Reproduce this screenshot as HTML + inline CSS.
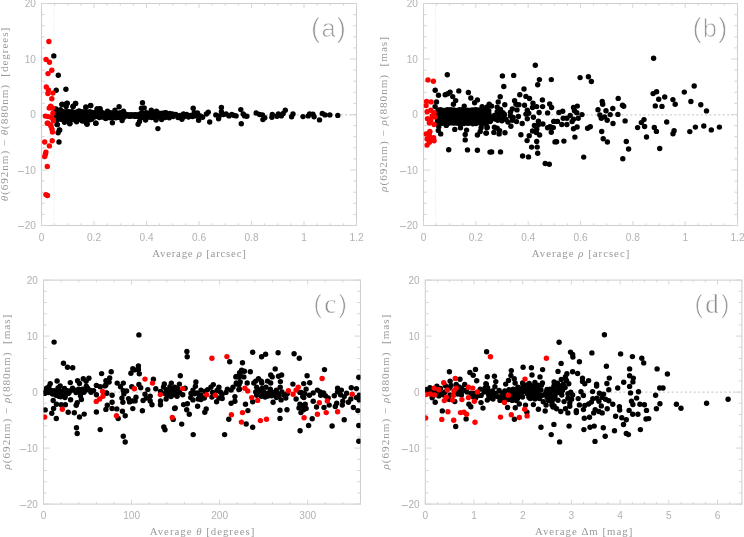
<!DOCTYPE html>
<html><head><meta charset="utf-8"><title>Figure</title>
<style>html,body{margin:0;padding:0;background:#fff;}svg{display:block;}.t{font-family:"Liberation Sans",sans-serif;font-size:10.1px;fill:#b2b2b2;}.s{font-family:"Liberation Serif",serif;font-size:10.8px;fill:#999999;}.y{font-size:11.2px;}.p{font-family:"Liberation Sans",sans-serif;font-size:25.5px;fill:#989898;stroke:#fff;stroke-width:0.75px;}.q{font-family:"Liberation Serif",serif;font-size:27px;fill:#8c8c8c;stroke-width:0.5px;}.k circle{fill:#000;}.r circle{fill:#fe0000;}</style></head><body>
<svg width="744" height="537" viewBox="0 0 744 537">
<rect width="744" height="537" fill="#fff"/>
<defs><clipPath id="ca"><rect x="41.5" y="3.5" width="315" height="222"/></clipPath><clipPath id="cb"><rect x="423.5" y="3.5" width="314" height="222"/></clipPath><clipPath id="cc"><rect x="43.5" y="280.1" width="317" height="224"/></clipPath><clipPath id="cd"><rect x="425.3" y="280.1" width="316.6" height="224"/></clipPath></defs>
<line x1="41.5" y1="114.90" x2="356.5" y2="114.90" stroke="#cfcfcf" stroke-width="1.25" stroke-dasharray="2.1 2.3"/>
<line x1="54.0" y1="3.5" x2="54.0" y2="225.5" stroke="#ebebeb" stroke-width="1" stroke-dasharray="1 1.3"/>
<rect x="41.5" y="3.5" width="315.0" height="222.0" fill="none" stroke="#cecece" stroke-width="1.05"/>
<path d="M41.50 225.5v-4.5M41.50 3.5v4.5M54.62 225.5v-2.2M54.62 3.5v2.2M67.75 225.5v-2.2M67.75 3.5v2.2M80.88 225.5v-2.2M80.88 3.5v2.2M94.00 225.5v-4.5M94.00 3.5v4.5M107.12 225.5v-2.2M107.12 3.5v2.2M120.25 225.5v-2.2M120.25 3.5v2.2M133.38 225.5v-2.2M133.38 3.5v2.2M146.50 225.5v-4.5M146.50 3.5v4.5M159.62 225.5v-2.2M159.62 3.5v2.2M172.75 225.5v-2.2M172.75 3.5v2.2M185.88 225.5v-2.2M185.88 3.5v2.2M199.00 225.5v-4.5M199.00 3.5v4.5M212.12 225.5v-2.2M212.12 3.5v2.2M225.25 225.5v-2.2M225.25 3.5v2.2M238.38 225.5v-2.2M238.38 3.5v2.2M251.50 225.5v-4.5M251.50 3.5v4.5M264.62 225.5v-2.2M264.62 3.5v2.2M277.75 225.5v-2.2M277.75 3.5v2.2M290.88 225.5v-2.2M290.88 3.5v2.2M304.00 225.5v-4.5M304.00 3.5v4.5M317.12 225.5v-2.2M317.12 3.5v2.2M330.25 225.5v-2.2M330.25 3.5v2.2M343.38 225.5v-2.2M343.38 3.5v2.2M356.50 225.5v-4.5M356.50 3.5v4.5M41.5 225.50h6.4M356.5 225.50h-6.4M41.5 214.40h3.2M356.5 214.40h-3.2M41.5 203.30h3.2M356.5 203.30h-3.2M41.5 192.20h3.2M356.5 192.20h-3.2M41.5 181.10h3.2M356.5 181.10h-3.2M41.5 170.00h6.4M356.5 170.00h-6.4M41.5 158.90h3.2M356.5 158.90h-3.2M41.5 147.80h3.2M356.5 147.80h-3.2M41.5 136.70h3.2M356.5 136.70h-3.2M41.5 125.60h3.2M356.5 125.60h-3.2M41.5 114.50h6.4M356.5 114.50h-6.4M41.5 103.40h3.2M356.5 103.40h-3.2M41.5 92.30h3.2M356.5 92.30h-3.2M41.5 81.20h3.2M356.5 81.20h-3.2M41.5 70.10h3.2M356.5 70.10h-3.2M41.5 59.00h6.4M356.5 59.00h-6.4M41.5 47.90h3.2M356.5 47.90h-3.2M41.5 36.80h3.2M356.5 36.80h-3.2M41.5 25.70h3.2M356.5 25.70h-3.2M41.5 14.60h3.2M356.5 14.60h-3.2M41.5 3.50h6.4M356.5 3.50h-6.4" stroke="#d6d6d6" stroke-width="1" fill="none"/>
<g class="k" clip-path="url(#ca)">
<circle cx="55.8" cy="111.7" r="2.7"/><circle cx="56.2" cy="114.2" r="2.7"/><circle cx="56.0" cy="117.1" r="2.7"/><circle cx="55.5" cy="119.6" r="2.7"/><circle cx="58.0" cy="111.9" r="2.7"/><circle cx="58.1" cy="114.2" r="2.7"/><circle cx="58.5" cy="117.5" r="2.7"/><circle cx="58.1" cy="119.3" r="2.7"/><circle cx="61.4" cy="112.4" r="2.7"/><circle cx="61.3" cy="114.5" r="2.7"/><circle cx="61.8" cy="116.7" r="2.7"/><circle cx="61.6" cy="119.4" r="2.7"/><circle cx="63.4" cy="111.6" r="2.7"/><circle cx="63.6" cy="114.9" r="2.7"/><circle cx="63.4" cy="117.3" r="2.7"/><circle cx="64.0" cy="119.5" r="2.7"/><circle cx="66.5" cy="111.6" r="2.7"/><circle cx="65.9" cy="114.3" r="2.7"/><circle cx="66.6" cy="117.1" r="2.7"/><circle cx="66.2" cy="119.7" r="2.7"/><circle cx="68.9" cy="111.8" r="2.7"/><circle cx="69.4" cy="114.8" r="2.7"/><circle cx="68.7" cy="117.3" r="2.7"/><circle cx="69.0" cy="120.0" r="2.7"/><circle cx="71.9" cy="111.8" r="2.7"/><circle cx="72.2" cy="114.2" r="2.7"/><circle cx="71.5" cy="117.5" r="2.7"/><circle cx="71.2" cy="119.6" r="2.7"/><circle cx="73.6" cy="112.2" r="2.7"/><circle cx="74.5" cy="114.7" r="2.7"/><circle cx="74.7" cy="117.0" r="2.7"/><circle cx="74.4" cy="119.7" r="2.7"/><circle cx="76.9" cy="112.0" r="2.7"/><circle cx="77.2" cy="115.0" r="2.7"/><circle cx="76.8" cy="117.4" r="2.7"/><circle cx="76.3" cy="119.8" r="2.7"/><circle cx="79.6" cy="112.5" r="2.7"/><circle cx="79.8" cy="114.4" r="2.7"/><circle cx="79.3" cy="117.4" r="2.7"/><circle cx="78.8" cy="119.6" r="2.7"/><circle cx="81.6" cy="111.6" r="2.7"/><circle cx="81.5" cy="114.9" r="2.7"/><circle cx="81.6" cy="116.9" r="2.7"/><circle cx="81.9" cy="120.0" r="2.7"/><circle cx="84.1" cy="111.9" r="2.7"/><circle cx="84.7" cy="115.0" r="2.7"/><circle cx="85.0" cy="117.6" r="2.7"/><circle cx="84.3" cy="119.5" r="2.7"/><circle cx="87.0" cy="112.4" r="2.7"/><circle cx="87.7" cy="114.3" r="2.7"/><circle cx="86.8" cy="116.9" r="2.7"/><circle cx="86.9" cy="119.6" r="2.7"/><circle cx="89.9" cy="111.8" r="2.7"/><circle cx="89.2" cy="114.5" r="2.7"/><circle cx="89.6" cy="117.3" r="2.7"/><circle cx="90.3" cy="119.8" r="2.7"/><circle cx="92.4" cy="112.4" r="2.7"/><circle cx="92.6" cy="114.2" r="2.7"/><circle cx="92.9" cy="117.1" r="2.7"/><circle cx="95.4" cy="112.6" r="2.7"/><circle cx="94.9" cy="114.5" r="2.7"/><circle cx="94.5" cy="116.9" r="2.7"/><circle cx="97.1" cy="111.9" r="2.7"/><circle cx="97.3" cy="114.3" r="2.7"/><circle cx="97.4" cy="116.4" r="2.7"/><circle cx="99.4" cy="112.8" r="2.7"/><circle cx="99.5" cy="115.2" r="2.7"/><circle cx="99.4" cy="117.6" r="2.7"/><circle cx="102.7" cy="112.8" r="2.7"/><circle cx="102.3" cy="115.2" r="2.7"/><circle cx="102.4" cy="117.0" r="2.7"/><circle cx="105.6" cy="113.5" r="2.7"/><circle cx="105.2" cy="115.3" r="2.7"/><circle cx="104.7" cy="117.0" r="2.7"/><circle cx="107.6" cy="112.9" r="2.7"/><circle cx="108.2" cy="115.0" r="2.7"/><circle cx="107.2" cy="117.7" r="2.7"/><circle cx="110.4" cy="112.8" r="2.7"/><circle cx="110.5" cy="114.9" r="2.7"/><circle cx="110.4" cy="117.7" r="2.7"/><circle cx="113.4" cy="113.3" r="2.7"/><circle cx="112.7" cy="115.2" r="2.7"/><circle cx="112.6" cy="117.5" r="2.7"/><circle cx="115.6" cy="113.3" r="2.7"/><circle cx="115.4" cy="115.1" r="2.7"/><circle cx="116.0" cy="117.7" r="2.7"/><circle cx="118.6" cy="113.3" r="2.7"/><circle cx="118.6" cy="115.5" r="2.7"/><circle cx="117.9" cy="117.3" r="2.7"/><circle cx="120.6" cy="112.7" r="2.7"/><circle cx="120.2" cy="115.1" r="2.7"/><circle cx="120.5" cy="117.5" r="2.7"/><circle cx="123.9" cy="113.1" r="2.7"/><circle cx="123.9" cy="115.7" r="2.7"/><circle cx="123.9" cy="117.2" r="2.7"/><circle cx="125.7" cy="114.2" r="2.7"/><circle cx="125.6" cy="116.0" r="2.7"/><circle cx="128.7" cy="114.7" r="2.7"/><circle cx="129.0" cy="116.2" r="2.7"/><circle cx="131.4" cy="114.6" r="2.7"/><circle cx="130.7" cy="116.3" r="2.7"/><circle cx="134.3" cy="114.6" r="2.7"/><circle cx="134.1" cy="116.2" r="2.7"/><circle cx="136.0" cy="114.6" r="2.7"/><circle cx="136.2" cy="116.4" r="2.7"/><circle cx="139.6" cy="114.3" r="2.7"/><circle cx="138.9" cy="116.6" r="2.7"/><circle cx="141.9" cy="112.8" r="2.7"/><circle cx="141.2" cy="115.0" r="2.7"/><circle cx="142.1" cy="117.5" r="2.7"/><circle cx="143.8" cy="113.4" r="2.7"/><circle cx="144.8" cy="115.4" r="2.7"/><circle cx="144.0" cy="117.3" r="2.7"/><circle cx="146.4" cy="112.7" r="2.7"/><circle cx="147.4" cy="115.4" r="2.7"/><circle cx="146.8" cy="117.6" r="2.7"/><circle cx="149.3" cy="113.4" r="2.7"/><circle cx="149.8" cy="115.1" r="2.7"/><circle cx="149.1" cy="117.1" r="2.7"/><circle cx="151.7" cy="113.2" r="2.7"/><circle cx="151.7" cy="115.2" r="2.7"/><circle cx="151.6" cy="117.6" r="2.7"/><circle cx="154.4" cy="113.1" r="2.7"/><circle cx="154.7" cy="115.6" r="2.7"/><circle cx="154.5" cy="117.6" r="2.7"/><circle cx="157.2" cy="113.1" r="2.7"/><circle cx="157.2" cy="114.9" r="2.7"/><circle cx="157.1" cy="117.0" r="2.7"/><circle cx="159.2" cy="113.3" r="2.7"/><circle cx="159.4" cy="115.3" r="2.7"/><circle cx="160.1" cy="117.3" r="2.7"/><circle cx="162.2" cy="113.1" r="2.7"/><circle cx="162.5" cy="115.5" r="2.7"/><circle cx="161.9" cy="117.3" r="2.7"/><circle cx="164.7" cy="112.9" r="2.7"/><circle cx="165.3" cy="115.3" r="2.7"/><circle cx="165.1" cy="117.5" r="2.7"/><circle cx="53.8" cy="55.9" r="2.7"/><circle cx="58.3" cy="75.3" r="2.7"/><circle cx="56.2" cy="90.2" r="2.7"/><circle cx="65.9" cy="89.3" r="2.7"/><circle cx="61.9" cy="104.6" r="2.7"/><circle cx="66.6" cy="103.4" r="2.7"/><circle cx="75.5" cy="103.4" r="2.7"/><circle cx="73.2" cy="106.2" r="2.7"/><circle cx="90.6" cy="105.6" r="2.7"/><circle cx="85.9" cy="107.6" r="2.7"/><circle cx="97.1" cy="109.0" r="2.7"/><circle cx="100.0" cy="109.0" r="2.7"/><circle cx="62.1" cy="104.1" r="2.7"/><circle cx="67.3" cy="103.3" r="2.7"/><circle cx="66.1" cy="106.5" r="2.7"/><circle cx="75.6" cy="103.4" r="2.7"/><circle cx="73.0" cy="106.5" r="2.7"/><circle cx="90.7" cy="105.5" r="2.7"/><circle cx="85.9" cy="106.9" r="2.7"/><circle cx="97.2" cy="108.9" r="2.7"/><circle cx="56.0" cy="108.9" r="2.7"/><circle cx="60.5" cy="109.7" r="2.7"/><circle cx="79.0" cy="110.9" r="2.7"/><circle cx="95.7" cy="123.2" r="2.7"/><circle cx="57.2" cy="124.6" r="2.7"/><circle cx="69.9" cy="123.2" r="2.7"/><circle cx="86.8" cy="123.4" r="2.7"/><circle cx="57.3" cy="124.6" r="2.7"/><circle cx="69.8" cy="123.8" r="2.7"/><circle cx="87.1" cy="124.2" r="2.7"/><circle cx="85.5" cy="121.8" r="2.7"/><circle cx="96.0" cy="123.3" r="2.7"/><circle cx="64.5" cy="122.2" r="2.7"/><circle cx="76.6" cy="121.8" r="2.7"/><circle cx="82.3" cy="121.0" r="2.7"/><circle cx="91.9" cy="119.0" r="2.7"/><circle cx="105.6" cy="118.6" r="2.7"/><circle cx="59.7" cy="129.9" r="2.7"/><circle cx="58.1" cy="132.7" r="2.7"/><circle cx="59.3" cy="130.2" r="2.7"/><circle cx="59.0" cy="142.0" r="2.7"/><circle cx="119.1" cy="106.7" r="2.7"/><circle cx="142.5" cy="102.7" r="2.7"/><circle cx="141.4" cy="108.3" r="2.7"/><circle cx="144.2" cy="107.9" r="2.7"/><circle cx="112.4" cy="122.7" r="2.7"/><circle cx="122.1" cy="120.6" r="2.7"/><circle cx="138.1" cy="124.3" r="2.7"/><circle cx="139.5" cy="121.5" r="2.7"/><circle cx="157.9" cy="128.6" r="2.7"/><circle cx="145.6" cy="120.1" r="2.7"/><circle cx="156.0" cy="120.1" r="2.7"/><circle cx="161.6" cy="119.6" r="2.7"/><circle cx="100.0" cy="108.8" r="2.7"/><circle cx="107.5" cy="111.2" r="2.7"/><circle cx="115.0" cy="110.2" r="2.7"/><circle cx="123.5" cy="111.2" r="2.7"/><circle cx="151.3" cy="110.2" r="2.7"/><circle cx="156.4" cy="111.2" r="2.7"/><circle cx="165.9" cy="112.6" r="2.7"/><circle cx="166.9" cy="114.9" r="2.7"/><circle cx="169.2" cy="117.8" r="2.7"/><circle cx="169.7" cy="113.5" r="2.7"/><circle cx="175.8" cy="114.5" r="2.7"/><circle cx="181.9" cy="119.2" r="2.7"/><circle cx="180.0" cy="115.4" r="2.7"/><circle cx="186.6" cy="114.5" r="2.7"/><circle cx="190.4" cy="115.4" r="2.7"/><circle cx="193.2" cy="108.3" r="2.7"/><circle cx="194.2" cy="112.6" r="2.7"/><circle cx="197.5" cy="113.0" r="2.7"/><circle cx="195.6" cy="115.9" r="2.7"/><circle cx="200.3" cy="115.9" r="2.7"/><circle cx="202.6" cy="117.3" r="2.7"/><circle cx="198.6" cy="120.3" r="2.7"/><circle cx="208.3" cy="112.1" r="2.7"/><circle cx="206.4" cy="114.0" r="2.7"/><circle cx="209.7" cy="122.0" r="2.7"/><circle cx="215.8" cy="114.9" r="2.7"/><circle cx="219.1" cy="115.9" r="2.7"/><circle cx="218.6" cy="118.7" r="2.7"/><circle cx="221.4" cy="107.4" r="2.7"/><circle cx="221.4" cy="111.6" r="2.7"/><circle cx="223.3" cy="114.5" r="2.7"/><circle cx="226.1" cy="114.0" r="2.7"/><circle cx="229.0" cy="115.9" r="2.7"/><circle cx="231.8" cy="114.5" r="2.7"/><circle cx="234.1" cy="115.4" r="2.7"/><circle cx="173.0" cy="116.5" r="2.7"/><circle cx="178.0" cy="117.5" r="2.7"/><circle cx="184.0" cy="116.8" r="2.7"/><circle cx="188.5" cy="117.0" r="2.7"/><circle cx="192.5" cy="116.5" r="2.7"/><circle cx="172.5" cy="114.0" r="2.7"/><circle cx="183.5" cy="114.0" r="2.7"/><circle cx="236.1" cy="115.9" r="2.7"/><circle cx="240.8" cy="109.6" r="2.7"/><circle cx="243.2" cy="114.0" r="2.7"/><circle cx="246.9" cy="116.3" r="2.7"/><circle cx="244.6" cy="115.9" r="2.7"/><circle cx="241.3" cy="123.7" r="2.7"/><circle cx="256.2" cy="113.0" r="2.7"/><circle cx="259.6" cy="114.5" r="2.7"/><circle cx="262.5" cy="114.9" r="2.7"/><circle cx="264.8" cy="117.8" r="2.7"/><circle cx="262.9" cy="119.6" r="2.7"/><circle cx="272.3" cy="114.5" r="2.7"/><circle cx="271.9" cy="117.3" r="2.7"/><circle cx="277.0" cy="116.3" r="2.7"/><circle cx="278.4" cy="114.0" r="2.7"/><circle cx="281.3" cy="115.9" r="2.7"/><circle cx="283.2" cy="113.5" r="2.7"/><circle cx="285.3" cy="110.2" r="2.7"/><circle cx="293.0" cy="114.0" r="2.7"/><circle cx="291.6" cy="116.8" r="2.7"/><circle cx="303.0" cy="116.6" r="2.7"/><circle cx="308.2" cy="115.9" r="2.7"/><circle cx="309.6" cy="114.0" r="2.7"/><circle cx="312.9" cy="114.3" r="2.7"/><circle cx="314.1" cy="116.8" r="2.7"/><circle cx="319.5" cy="119.9" r="2.7"/><circle cx="322.3" cy="113.5" r="2.7"/><circle cx="325.1" cy="114.9" r="2.7"/><circle cx="329.8" cy="114.9" r="2.7"/><circle cx="337.8" cy="115.4" r="2.7"/>
</g>
<g class="r" clip-path="url(#ca)">
<circle cx="48.9" cy="41.5" r="2.7"/><circle cx="46.1" cy="59.4" r="2.7"/><circle cx="49.5" cy="62.2" r="2.7"/><circle cx="51.8" cy="70.3" r="2.7"/><circle cx="48.0" cy="73.6" r="2.7"/><circle cx="46.3" cy="86.9" r="2.7"/><circle cx="48.4" cy="90.0" r="2.7"/><circle cx="47.9" cy="93.5" r="2.7"/><circle cx="52.9" cy="93.1" r="2.7"/><circle cx="51.8" cy="98.7" r="2.7"/><circle cx="50.6" cy="106.2" r="2.7"/><circle cx="49.2" cy="108.1" r="2.7"/><circle cx="52.5" cy="108.0" r="2.7"/><circle cx="52.9" cy="113.3" r="2.7"/><circle cx="45.4" cy="116.1" r="2.7"/><circle cx="48.2" cy="116.6" r="2.7"/><circle cx="51.5" cy="117.5" r="2.7"/><circle cx="53.4" cy="119.9" r="2.7"/><circle cx="47.3" cy="123.2" r="2.7"/><circle cx="50.6" cy="125.0" r="2.7"/><circle cx="47.8" cy="123.2" r="2.7"/><circle cx="53.4" cy="120.8" r="2.7"/><circle cx="51.1" cy="126.5" r="2.7"/><circle cx="52.0" cy="129.3" r="2.7"/><circle cx="52.5" cy="132.1" r="2.7"/><circle cx="52.2" cy="140.8" r="2.7"/><circle cx="44.7" cy="142.0" r="2.7"/><circle cx="49.4" cy="145.9" r="2.7"/><circle cx="45.9" cy="152.1" r="2.7"/><circle cx="45.4" cy="154.2" r="2.7"/><circle cx="44.7" cy="156.6" r="2.7"/><circle cx="47.3" cy="166.4" r="2.7"/><circle cx="45.9" cy="194.6" r="2.7"/><circle cx="47.5" cy="195.5" r="2.7"/>
</g>
<line x1="423.5" y1="114.90" x2="737.5" y2="114.90" stroke="#cfcfcf" stroke-width="1.25" stroke-dasharray="2.1 2.3"/>
<line x1="435.6" y1="3.5" x2="435.6" y2="225.5" stroke="#ebebeb" stroke-width="1" stroke-dasharray="1 1.3"/>
<rect x="423.5" y="3.5" width="314.0" height="222.0" fill="none" stroke="#cecece" stroke-width="1.05"/>
<path d="M423.50 225.5v-4.5M423.50 3.5v4.5M436.58 225.5v-2.2M436.58 3.5v2.2M449.67 225.5v-2.2M449.67 3.5v2.2M462.75 225.5v-2.2M462.75 3.5v2.2M475.83 225.5v-4.5M475.83 3.5v4.5M488.92 225.5v-2.2M488.92 3.5v2.2M502.00 225.5v-2.2M502.00 3.5v2.2M515.08 225.5v-2.2M515.08 3.5v2.2M528.17 225.5v-4.5M528.17 3.5v4.5M541.25 225.5v-2.2M541.25 3.5v2.2M554.33 225.5v-2.2M554.33 3.5v2.2M567.42 225.5v-2.2M567.42 3.5v2.2M580.50 225.5v-4.5M580.50 3.5v4.5M593.58 225.5v-2.2M593.58 3.5v2.2M606.67 225.5v-2.2M606.67 3.5v2.2M619.75 225.5v-2.2M619.75 3.5v2.2M632.83 225.5v-4.5M632.83 3.5v4.5M645.92 225.5v-2.2M645.92 3.5v2.2M659.00 225.5v-2.2M659.00 3.5v2.2M672.08 225.5v-2.2M672.08 3.5v2.2M685.17 225.5v-4.5M685.17 3.5v4.5M698.25 225.5v-2.2M698.25 3.5v2.2M711.33 225.5v-2.2M711.33 3.5v2.2M724.42 225.5v-2.2M724.42 3.5v2.2M737.50 225.5v-4.5M737.50 3.5v4.5M423.5 225.50h6.4M737.5 225.50h-6.4M423.5 214.40h3.2M737.5 214.40h-3.2M423.5 203.30h3.2M737.5 203.30h-3.2M423.5 192.20h3.2M737.5 192.20h-3.2M423.5 181.10h3.2M737.5 181.10h-3.2M423.5 170.00h6.4M737.5 170.00h-6.4M423.5 158.90h3.2M737.5 158.90h-3.2M423.5 147.80h3.2M737.5 147.80h-3.2M423.5 136.70h3.2M737.5 136.70h-3.2M423.5 125.60h3.2M737.5 125.60h-3.2M423.5 114.50h6.4M737.5 114.50h-6.4M423.5 103.40h3.2M737.5 103.40h-3.2M423.5 92.30h3.2M737.5 92.30h-3.2M423.5 81.20h3.2M737.5 81.20h-3.2M423.5 70.10h3.2M737.5 70.10h-3.2M423.5 59.00h6.4M737.5 59.00h-6.4M423.5 47.90h3.2M737.5 47.90h-3.2M423.5 36.80h3.2M737.5 36.80h-3.2M423.5 25.70h3.2M737.5 25.70h-3.2M423.5 14.60h3.2M737.5 14.60h-3.2M423.5 3.50h6.4M737.5 3.50h-6.4" stroke="#d6d6d6" stroke-width="1" fill="none"/>
<g class="k" clip-path="url(#cb)">
<circle cx="438.0" cy="109.9" r="2.7"/><circle cx="437.6" cy="112.7" r="2.7"/><circle cx="437.5" cy="115.6" r="2.7"/><circle cx="437.4" cy="118.1" r="2.7"/><circle cx="437.5" cy="121.2" r="2.7"/><circle cx="437.7" cy="123.7" r="2.7"/><circle cx="440.7" cy="109.8" r="2.7"/><circle cx="440.3" cy="113.1" r="2.7"/><circle cx="440.6" cy="115.0" r="2.7"/><circle cx="439.7" cy="118.0" r="2.7"/><circle cx="439.7" cy="120.5" r="2.7"/><circle cx="439.7" cy="123.5" r="2.7"/><circle cx="443.2" cy="110.4" r="2.7"/><circle cx="442.5" cy="112.9" r="2.7"/><circle cx="443.1" cy="115.0" r="2.7"/><circle cx="443.4" cy="118.6" r="2.7"/><circle cx="442.6" cy="121.3" r="2.7"/><circle cx="442.8" cy="123.3" r="2.7"/><circle cx="446.2" cy="110.3" r="2.7"/><circle cx="445.2" cy="112.6" r="2.7"/><circle cx="445.6" cy="115.2" r="2.7"/><circle cx="445.2" cy="117.9" r="2.7"/><circle cx="445.9" cy="120.3" r="2.7"/><circle cx="445.7" cy="123.2" r="2.7"/><circle cx="447.7" cy="109.8" r="2.7"/><circle cx="448.4" cy="112.7" r="2.7"/><circle cx="447.8" cy="115.9" r="2.7"/><circle cx="448.6" cy="118.6" r="2.7"/><circle cx="447.8" cy="120.6" r="2.7"/><circle cx="447.7" cy="123.6" r="2.7"/><circle cx="450.7" cy="109.6" r="2.7"/><circle cx="450.9" cy="113.1" r="2.7"/><circle cx="451.4" cy="115.2" r="2.7"/><circle cx="450.6" cy="118.5" r="2.7"/><circle cx="451.1" cy="121.0" r="2.7"/><circle cx="450.5" cy="122.9" r="2.7"/><circle cx="453.9" cy="109.9" r="2.7"/><circle cx="453.2" cy="113.1" r="2.7"/><circle cx="453.9" cy="115.7" r="2.7"/><circle cx="453.2" cy="118.5" r="2.7"/><circle cx="453.2" cy="121.2" r="2.7"/><circle cx="453.6" cy="123.1" r="2.7"/><circle cx="456.5" cy="110.4" r="2.7"/><circle cx="456.1" cy="112.3" r="2.7"/><circle cx="456.4" cy="115.1" r="2.7"/><circle cx="455.9" cy="117.8" r="2.7"/><circle cx="455.9" cy="120.5" r="2.7"/><circle cx="456.2" cy="123.1" r="2.7"/><circle cx="459.4" cy="109.8" r="2.7"/><circle cx="459.1" cy="112.4" r="2.7"/><circle cx="458.9" cy="114.9" r="2.7"/><circle cx="458.8" cy="117.6" r="2.7"/><circle cx="459.4" cy="120.9" r="2.7"/><circle cx="458.7" cy="123.3" r="2.7"/><circle cx="462.3" cy="109.6" r="2.7"/><circle cx="462.2" cy="112.6" r="2.7"/><circle cx="461.8" cy="115.7" r="2.7"/><circle cx="461.7" cy="118.1" r="2.7"/><circle cx="462.0" cy="121.3" r="2.7"/><circle cx="461.6" cy="123.6" r="2.7"/><circle cx="464.7" cy="110.1" r="2.7"/><circle cx="464.4" cy="112.5" r="2.7"/><circle cx="464.0" cy="115.0" r="2.7"/><circle cx="464.0" cy="118.3" r="2.7"/><circle cx="464.2" cy="120.5" r="2.7"/><circle cx="464.0" cy="123.6" r="2.7"/><circle cx="467.6" cy="110.2" r="2.7"/><circle cx="466.9" cy="112.4" r="2.7"/><circle cx="467.0" cy="115.4" r="2.7"/><circle cx="466.8" cy="118.0" r="2.7"/><circle cx="466.9" cy="121.3" r="2.7"/><circle cx="467.8" cy="123.3" r="2.7"/><circle cx="469.6" cy="110.5" r="2.7"/><circle cx="469.7" cy="112.6" r="2.7"/><circle cx="469.3" cy="115.3" r="2.7"/><circle cx="469.9" cy="118.1" r="2.7"/><circle cx="469.5" cy="120.8" r="2.7"/><circle cx="469.3" cy="123.1" r="2.7"/><circle cx="472.1" cy="109.9" r="2.7"/><circle cx="472.1" cy="112.2" r="2.7"/><circle cx="472.4" cy="115.1" r="2.7"/><circle cx="472.7" cy="118.1" r="2.7"/><circle cx="472.9" cy="121.0" r="2.7"/><circle cx="472.9" cy="123.7" r="2.7"/><circle cx="475.2" cy="109.8" r="2.7"/><circle cx="475.9" cy="112.3" r="2.7"/><circle cx="475.6" cy="115.5" r="2.7"/><circle cx="474.8" cy="118.4" r="2.7"/><circle cx="475.8" cy="120.9" r="2.7"/><circle cx="475.6" cy="123.6" r="2.7"/><circle cx="477.6" cy="110.0" r="2.7"/><circle cx="478.0" cy="113.0" r="2.7"/><circle cx="478.4" cy="115.7" r="2.7"/><circle cx="478.1" cy="118.5" r="2.7"/><circle cx="478.2" cy="121.0" r="2.7"/><circle cx="477.7" cy="122.8" r="2.7"/><circle cx="480.3" cy="109.9" r="2.7"/><circle cx="480.2" cy="113.0" r="2.7"/><circle cx="480.8" cy="115.5" r="2.7"/><circle cx="480.9" cy="118.3" r="2.7"/><circle cx="480.7" cy="120.3" r="2.7"/><circle cx="481.1" cy="123.5" r="2.7"/><circle cx="483.4" cy="110.0" r="2.7"/><circle cx="483.6" cy="112.3" r="2.7"/><circle cx="483.7" cy="115.2" r="2.7"/><circle cx="482.9" cy="117.9" r="2.7"/><circle cx="483.7" cy="120.5" r="2.7"/><circle cx="483.7" cy="123.8" r="2.7"/><circle cx="486.1" cy="109.9" r="2.7"/><circle cx="486.1" cy="112.9" r="2.7"/><circle cx="486.4" cy="115.5" r="2.7"/><circle cx="486.3" cy="117.7" r="2.7"/><circle cx="485.7" cy="120.6" r="2.7"/><circle cx="486.4" cy="123.1" r="2.7"/><circle cx="489.0" cy="114.0" r="2.7"/><circle cx="492.0" cy="117.5" r="2.7"/><circle cx="499.0" cy="113.0" r="2.7"/><circle cx="501.5" cy="118.5" r="2.7"/><circle cx="504.5" cy="114.5" r="2.7"/><circle cx="506.0" cy="119.5" r="2.7"/><circle cx="495.0" cy="119.0" r="2.7"/><circle cx="490.0" cy="121.5" r="2.7"/><circle cx="447.3" cy="74.7" r="2.7"/><circle cx="435.2" cy="90.3" r="2.7"/><circle cx="438.5" cy="95.3" r="2.7"/><circle cx="445.2" cy="94.7" r="2.7"/><circle cx="447.8" cy="93.7" r="2.7"/><circle cx="450.1" cy="92.1" r="2.7"/><circle cx="452.7" cy="96.6" r="2.7"/><circle cx="458.8" cy="90.9" r="2.7"/><circle cx="468.4" cy="92.5" r="2.7"/><circle cx="470.8" cy="98.0" r="2.7"/><circle cx="477.4" cy="99.9" r="2.7"/><circle cx="455.7" cy="100.6" r="2.7"/><circle cx="436.5" cy="101.9" r="2.7"/><circle cx="474.6" cy="102.8" r="2.7"/><circle cx="435.1" cy="106.6" r="2.7"/><circle cx="453.4" cy="104.2" r="2.7"/><circle cx="464.2" cy="106.1" r="2.7"/><circle cx="482.1" cy="106.6" r="2.7"/><circle cx="489.1" cy="105.2" r="2.7"/><circle cx="438.3" cy="130.6" r="2.7"/><circle cx="440.7" cy="133.9" r="2.7"/><circle cx="454.8" cy="129.4" r="2.7"/><circle cx="460.5" cy="127.7" r="2.7"/><circle cx="466.6" cy="130.1" r="2.7"/><circle cx="465.2" cy="134.5" r="2.7"/><circle cx="465.2" cy="139.9" r="2.7"/><circle cx="477.4" cy="135.0" r="2.7"/><circle cx="480.2" cy="131.5" r="2.7"/><circle cx="485.9" cy="133.1" r="2.7"/><circle cx="487.3" cy="127.3" r="2.7"/><circle cx="481.1" cy="127.7" r="2.7"/><circle cx="438.8" cy="126.8" r="2.7"/><circle cx="446.3" cy="125.4" r="2.7"/><circle cx="448.7" cy="149.8" r="2.7"/><circle cx="467.5" cy="149.9" r="2.7"/><circle cx="477.4" cy="150.2" r="2.7"/><circle cx="490.0" cy="152.1" r="2.7"/><circle cx="535.3" cy="65.3" r="2.7"/><circle cx="502.4" cy="75.9" r="2.7"/><circle cx="513.7" cy="75.4" r="2.7"/><circle cx="539.4" cy="79.6" r="2.7"/><circle cx="551.3" cy="79.6" r="2.7"/><circle cx="537.7" cy="84.8" r="2.7"/><circle cx="503.8" cy="86.5" r="2.7"/><circle cx="524.0" cy="89.0" r="2.7"/><circle cx="519.8" cy="94.7" r="2.7"/><circle cx="525.9" cy="96.4" r="2.7"/><circle cx="529.5" cy="98.5" r="2.7"/><circle cx="500.2" cy="96.8" r="2.7"/><circle cx="542.4" cy="99.9" r="2.7"/><circle cx="514.6" cy="100.7" r="2.7"/><circle cx="498.2" cy="101.9" r="2.7"/><circle cx="504.8" cy="104.7" r="2.7"/><circle cx="516.0" cy="104.2" r="2.7"/><circle cx="518.9" cy="104.7" r="2.7"/><circle cx="524.5" cy="105.2" r="2.7"/><circle cx="533.0" cy="103.3" r="2.7"/><circle cx="532.5" cy="107.5" r="2.7"/><circle cx="536.7" cy="106.6" r="2.7"/><circle cx="542.6" cy="106.6" r="2.7"/><circle cx="549.7" cy="104.0" r="2.7"/><circle cx="551.6" cy="107.5" r="2.7"/><circle cx="489.2" cy="104.2" r="2.7"/><circle cx="491.6" cy="106.1" r="2.7"/><circle cx="486.9" cy="107.1" r="2.7"/><circle cx="497.2" cy="107.1" r="2.7"/><circle cx="500.5" cy="109.4" r="2.7"/><circle cx="512.3" cy="108.9" r="2.7"/><circle cx="517.0" cy="109.9" r="2.7"/><circle cx="527.3" cy="110.3" r="2.7"/><circle cx="539.1" cy="112.5" r="2.7"/><circle cx="547.6" cy="112.9" r="2.7"/><circle cx="488.8" cy="110.8" r="2.7"/><circle cx="485.9" cy="113.6" r="2.7"/><circle cx="497.2" cy="111.8" r="2.7"/><circle cx="502.9" cy="112.7" r="2.7"/><circle cx="510.4" cy="112.2" r="2.7"/><circle cx="525.9" cy="114.1" r="2.7"/><circle cx="528.7" cy="113.2" r="2.7"/><circle cx="494.4" cy="115.5" r="2.7"/><circle cx="499.1" cy="116.5" r="2.7"/><circle cx="503.8" cy="116.9" r="2.7"/><circle cx="510.4" cy="116.0" r="2.7"/><circle cx="513.2" cy="117.4" r="2.7"/><circle cx="518.4" cy="116.5" r="2.7"/><circle cx="533.4" cy="117.2" r="2.7"/><circle cx="527.3" cy="118.8" r="2.7"/><circle cx="487.8" cy="117.4" r="2.7"/><circle cx="490.6" cy="120.7" r="2.7"/><circle cx="497.7" cy="120.2" r="2.7"/><circle cx="501.9" cy="120.7" r="2.7"/><circle cx="508.0" cy="122.1" r="2.7"/><circle cx="512.3" cy="120.2" r="2.7"/><circle cx="516.5" cy="121.6" r="2.7"/><circle cx="522.2" cy="123.5" r="2.7"/><circle cx="510.9" cy="126.3" r="2.7"/><circle cx="538.4" cy="121.2" r="2.7"/><circle cx="542.9" cy="124.0" r="2.7"/><circle cx="534.4" cy="125.4" r="2.7"/><circle cx="538.2" cy="124.9" r="2.7"/><circle cx="554.1" cy="121.4" r="2.7"/><circle cx="547.6" cy="127.7" r="2.7"/><circle cx="549.9" cy="126.8" r="2.7"/><circle cx="551.3" cy="132.2" r="2.7"/><circle cx="486.9" cy="127.7" r="2.7"/><circle cx="486.4" cy="133.1" r="2.7"/><circle cx="494.4" cy="127.3" r="2.7"/><circle cx="497.2" cy="128.2" r="2.7"/><circle cx="493.9" cy="132.4" r="2.7"/><circle cx="499.6" cy="130.6" r="2.7"/><circle cx="499.1" cy="133.9" r="2.7"/><circle cx="505.0" cy="132.7" r="2.7"/><circle cx="520.9" cy="134.8" r="2.7"/><circle cx="532.5" cy="131.0" r="2.7"/><circle cx="536.7" cy="129.2" r="2.7"/><circle cx="536.3" cy="132.5" r="2.7"/><circle cx="539.6" cy="135.0" r="2.7"/><circle cx="529.2" cy="135.7" r="2.7"/><circle cx="527.1" cy="140.6" r="2.7"/><circle cx="536.7" cy="141.5" r="2.7"/><circle cx="531.6" cy="147.1" r="2.7"/><circle cx="537.2" cy="147.1" r="2.7"/><circle cx="537.7" cy="153.2" r="2.7"/><circle cx="491.6" cy="151.9" r="2.7"/><circle cx="500.5" cy="151.9" r="2.7"/><circle cx="522.6" cy="156.0" r="2.7"/><circle cx="528.5" cy="156.9" r="2.7"/><circle cx="545.2" cy="163.5" r="2.7"/><circle cx="549.3" cy="164.3" r="2.7"/><circle cx="555.0" cy="141.9" r="2.7"/><circle cx="580.1" cy="77.6" r="2.7"/><circle cx="588.4" cy="76.8" r="2.7"/><circle cx="591.4" cy="81.5" r="2.7"/><circle cx="618.2" cy="98.4" r="2.7"/><circle cx="602.2" cy="101.4" r="2.7"/><circle cx="602.7" cy="104.2" r="2.7"/><circle cx="577.3" cy="106.1" r="2.7"/><circle cx="573.5" cy="107.5" r="2.7"/><circle cx="598.0" cy="109.7" r="2.7"/><circle cx="612.8" cy="108.5" r="2.7"/><circle cx="606.0" cy="110.8" r="2.7"/><circle cx="558.9" cy="112.5" r="2.7"/><circle cx="562.7" cy="111.3" r="2.7"/><circle cx="574.5" cy="110.8" r="2.7"/><circle cx="576.8" cy="112.7" r="2.7"/><circle cx="582.0" cy="114.6" r="2.7"/><circle cx="599.9" cy="115.0" r="2.7"/><circle cx="610.2" cy="114.6" r="2.7"/><circle cx="617.9" cy="114.4" r="2.7"/><circle cx="570.2" cy="115.5" r="2.7"/><circle cx="578.2" cy="118.2" r="2.7"/><circle cx="563.2" cy="118.3" r="2.7"/><circle cx="566.9" cy="118.3" r="2.7"/><circle cx="573.5" cy="119.3" r="2.7"/><circle cx="601.3" cy="118.3" r="2.7"/><circle cx="604.6" cy="116.9" r="2.7"/><circle cx="607.2" cy="120.2" r="2.7"/><circle cx="553.8" cy="121.4" r="2.7"/><circle cx="557.5" cy="121.4" r="2.7"/><circle cx="572.1" cy="121.6" r="2.7"/><circle cx="561.8" cy="124.5" r="2.7"/><circle cx="566.9" cy="124.5" r="2.7"/><circle cx="613.0" cy="123.5" r="2.7"/><circle cx="551.4" cy="127.3" r="2.7"/><circle cx="553.3" cy="127.6" r="2.7"/><circle cx="573.5" cy="128.7" r="2.7"/><circle cx="577.1" cy="127.0" r="2.7"/><circle cx="587.6" cy="128.2" r="2.7"/><circle cx="590.3" cy="126.8" r="2.7"/><circle cx="601.7" cy="131.5" r="2.7"/><circle cx="574.9" cy="137.1" r="2.7"/><circle cx="603.2" cy="138.8" r="2.7"/><circle cx="607.4" cy="142.0" r="2.7"/><circle cx="556.6" cy="141.8" r="2.7"/><circle cx="563.9" cy="141.1" r="2.7"/><circle cx="583.7" cy="157.1" r="2.7"/><circle cx="653.6" cy="58.2" r="2.7"/><circle cx="656.6" cy="91.7" r="2.7"/><circle cx="653.1" cy="93.6" r="2.7"/><circle cx="684.3" cy="92.1" r="2.7"/><circle cx="622.5" cy="105.2" r="2.7"/><circle cx="623.7" cy="106.2" r="2.7"/><circle cx="625.1" cy="120.9" r="2.7"/><circle cx="664.7" cy="97.0" r="2.7"/><circle cx="658.7" cy="99.3" r="2.7"/><circle cx="672.9" cy="99.6" r="2.7"/><circle cx="675.2" cy="104.3" r="2.7"/><circle cx="655.3" cy="105.9" r="2.7"/><circle cx="662.0" cy="106.4" r="2.7"/><circle cx="644.0" cy="119.6" r="2.7"/><circle cx="641.3" cy="122.6" r="2.7"/><circle cx="637.6" cy="127.6" r="2.7"/><circle cx="644.6" cy="126.5" r="2.7"/><circle cx="654.3" cy="127.4" r="2.7"/><circle cx="656.4" cy="131.4" r="2.7"/><circle cx="666.7" cy="122.0" r="2.7"/><circle cx="674.1" cy="130.7" r="2.7"/><circle cx="673.0" cy="133.8" r="2.7"/><circle cx="646.5" cy="137.0" r="2.7"/><circle cx="626.3" cy="141.5" r="2.7"/><circle cx="628.6" cy="149.0" r="2.7"/><circle cx="622.8" cy="158.7" r="2.7"/><circle cx="659.7" cy="148.5" r="2.7"/><circle cx="694.2" cy="86.0" r="2.7"/><circle cx="690.9" cy="101.5" r="2.7"/><circle cx="700.8" cy="104.8" r="2.7"/><circle cx="706.5" cy="110.9" r="2.7"/><circle cx="689.8" cy="131.6" r="2.7"/><circle cx="695.4" cy="127.1" r="2.7"/><circle cx="703.8" cy="126.0" r="2.7"/><circle cx="711.3" cy="129.9" r="2.7"/><circle cx="719.4" cy="127.1" r="2.7"/>
</g>
<g class="r" clip-path="url(#cb)">
<circle cx="428.0" cy="79.9" r="2.7"/><circle cx="433.4" cy="81.3" r="2.7"/><circle cx="426.6" cy="101.4" r="2.7"/><circle cx="431.1" cy="101.9" r="2.7"/><circle cx="426.1" cy="105.6" r="2.7"/><circle cx="427.1" cy="111.8" r="2.7"/><circle cx="430.8" cy="110.3" r="2.7"/><circle cx="434.1" cy="112.7" r="2.7"/><circle cx="435.1" cy="116.9" r="2.7"/><circle cx="432.2" cy="116.0" r="2.7"/><circle cx="427.5" cy="118.8" r="2.7"/><circle cx="430.8" cy="120.2" r="2.7"/><circle cx="429.4" cy="123.0" r="2.7"/><circle cx="434.1" cy="124.5" r="2.7"/><circle cx="429.9" cy="131.5" r="2.7"/><circle cx="426.1" cy="133.9" r="2.7"/><circle cx="429.4" cy="136.2" r="2.7"/><circle cx="433.6" cy="137.6" r="2.7"/><circle cx="427.1" cy="139.0" r="2.7"/><circle cx="431.3" cy="140.0" r="2.7"/><circle cx="429.4" cy="132.8" r="2.7"/><circle cx="434.1" cy="140.8" r="2.7"/><circle cx="429.4" cy="142.2" r="2.7"/><circle cx="427.1" cy="145.1" r="2.7"/>
</g>
<line x1="43.5" y1="392.00" x2="360.5" y2="392.00" stroke="#cfcfcf" stroke-width="1.25" stroke-dasharray="2.1 2.3"/>
<rect x="43.5" y="280.1" width="317.0" height="224.0" fill="none" stroke="#cecece" stroke-width="1.05"/>
<path d="M43.50 504.1v-4.5M43.50 280.1v4.5M61.11 504.1v-2.2M61.11 280.1v2.2M78.72 504.1v-2.2M78.72 280.1v2.2M96.33 504.1v-2.2M96.33 280.1v2.2M113.94 504.1v-2.2M113.94 280.1v2.2M131.56 504.1v-4.5M131.56 280.1v4.5M149.17 504.1v-2.2M149.17 280.1v2.2M166.78 504.1v-2.2M166.78 280.1v2.2M184.39 504.1v-2.2M184.39 280.1v2.2M202.00 504.1v-2.2M202.00 280.1v2.2M219.61 504.1v-4.5M219.61 280.1v4.5M237.22 504.1v-2.2M237.22 280.1v2.2M254.83 504.1v-2.2M254.83 280.1v2.2M272.44 504.1v-2.2M272.44 280.1v2.2M290.06 504.1v-2.2M290.06 280.1v2.2M307.67 504.1v-4.5M307.67 280.1v4.5M325.28 504.1v-2.2M325.28 280.1v2.2M342.89 504.1v-2.2M342.89 280.1v2.2M360.50 504.1v-2.2M360.50 280.1v2.2M43.5 504.10h6.4M360.5 504.10h-6.4M43.5 492.90h3.2M360.5 492.90h-3.2M43.5 481.70h3.2M360.5 481.70h-3.2M43.5 470.50h3.2M360.5 470.50h-3.2M43.5 459.30h3.2M360.5 459.30h-3.2M43.5 448.10h6.4M360.5 448.10h-6.4M43.5 436.90h3.2M360.5 436.90h-3.2M43.5 425.70h3.2M360.5 425.70h-3.2M43.5 414.50h3.2M360.5 414.50h-3.2M43.5 403.30h3.2M360.5 403.30h-3.2M43.5 392.10h6.4M360.5 392.10h-6.4M43.5 380.90h3.2M360.5 380.90h-3.2M43.5 369.70h3.2M360.5 369.70h-3.2M43.5 358.50h3.2M360.5 358.50h-3.2M43.5 347.30h3.2M360.5 347.30h-3.2M43.5 336.10h6.4M360.5 336.10h-6.4M43.5 324.90h3.2M360.5 324.90h-3.2M43.5 313.70h3.2M360.5 313.70h-3.2M43.5 302.50h3.2M360.5 302.50h-3.2M43.5 291.30h3.2M360.5 291.30h-3.2M43.5 280.10h6.4M360.5 280.10h-6.4" stroke="#d6d6d6" stroke-width="1" fill="none"/>
<g class="k" clip-path="url(#cc)">
<circle cx="168.5" cy="392.5" r="2.7"/><circle cx="165.0" cy="393.5" r="2.7"/><circle cx="163.5" cy="387.0" r="2.7"/><circle cx="61.0" cy="393.0" r="2.7"/><circle cx="64.5" cy="388.5" r="2.7"/><circle cx="69.0" cy="392.8" r="2.7"/><circle cx="72.5" cy="388.3" r="2.7"/><circle cx="76.0" cy="392.6" r="2.7"/><circle cx="80.0" cy="391.8" r="2.7"/><circle cx="84.0" cy="392.2" r="2.7"/><circle cx="87.5" cy="388.0" r="2.7"/><circle cx="91.0" cy="392.3" r="2.7"/><circle cx="58.0" cy="388.0" r="2.7"/><circle cx="58.8" cy="396.2" r="2.7"/><circle cx="65.0" cy="397.5" r="2.7"/><circle cx="86.3" cy="386.3" r="2.7"/><circle cx="175.0" cy="392.5" r="2.7"/><circle cx="177.5" cy="388.5" r="2.7"/><circle cx="171.5" cy="393.0" r="2.7"/><circle cx="167.5" cy="391.5" r="2.7"/><circle cx="179.5" cy="392.5" r="2.7"/><circle cx="191.0" cy="393.5" r="2.7"/><circle cx="199.5" cy="395.5" r="2.7"/><circle cx="205.0" cy="391.5" r="2.7"/><circle cx="212.5" cy="392.5" r="2.7"/><circle cx="222.0" cy="394.5" r="2.7"/><circle cx="258.0" cy="389.5" r="2.7"/><circle cx="263.0" cy="394.5" r="2.7"/><circle cx="268.0" cy="396.0" r="2.7"/><circle cx="274.0" cy="393.5" r="2.7"/><circle cx="279.0" cy="396.0" r="2.7"/><circle cx="284.0" cy="395.0" r="2.7"/><circle cx="54.1" cy="342.1" r="2.7"/><circle cx="63.5" cy="363.3" r="2.7"/><circle cx="67.5" cy="367.3" r="2.7"/><circle cx="72.7" cy="367.8" r="2.7"/><circle cx="101.6" cy="373.6" r="2.7"/><circle cx="111.2" cy="371.7" r="2.7"/><circle cx="57.1" cy="381.0" r="2.7"/><circle cx="50.2" cy="383.8" r="2.7"/><circle cx="70.3" cy="382.6" r="2.7"/><circle cx="77.6" cy="380.7" r="2.7"/><circle cx="83.3" cy="378.8" r="2.7"/><circle cx="86.1" cy="381.2" r="2.7"/><circle cx="88.9" cy="378.3" r="2.7"/><circle cx="79.5" cy="383.5" r="2.7"/><circle cx="60.2" cy="385.9" r="2.7"/><circle cx="46.6" cy="388.2" r="2.7"/><circle cx="48.9" cy="386.8" r="2.7"/><circle cx="96.4" cy="385.4" r="2.7"/><circle cx="105.9" cy="380.7" r="2.7"/><circle cx="109.1" cy="382.1" r="2.7"/><circle cx="104.9" cy="385.9" r="2.7"/><circle cx="100.2" cy="386.8" r="2.7"/><circle cx="54.1" cy="390.6" r="2.7"/><circle cx="56.9" cy="392.5" r="2.7"/><circle cx="45.6" cy="391.5" r="2.7"/><circle cx="44.7" cy="393.4" r="2.7"/><circle cx="63.5" cy="391.0" r="2.7"/><circle cx="67.3" cy="390.6" r="2.7"/><circle cx="71.0" cy="390.6" r="2.7"/><circle cx="74.8" cy="390.1" r="2.7"/><circle cx="78.6" cy="389.2" r="2.7"/><circle cx="82.3" cy="389.2" r="2.7"/><circle cx="86.1" cy="390.1" r="2.7"/><circle cx="89.9" cy="390.1" r="2.7"/><circle cx="93.6" cy="390.6" r="2.7"/><circle cx="68.2" cy="393.4" r="2.7"/><circle cx="65.4" cy="395.3" r="2.7"/><circle cx="60.7" cy="396.7" r="2.7"/><circle cx="56.0" cy="395.3" r="2.7"/><circle cx="96.4" cy="394.8" r="2.7"/><circle cx="106.8" cy="393.2" r="2.7"/><circle cx="59.0" cy="390.0" r="2.7"/><circle cx="51.0" cy="390.5" r="2.7"/><circle cx="48.5" cy="392.5" r="2.7"/><circle cx="52.5" cy="394.0" r="2.7"/><circle cx="80.5" cy="395.8" r="2.7"/><circle cx="81.4" cy="399.5" r="2.7"/><circle cx="70.6" cy="399.8" r="2.7"/><circle cx="53.2" cy="400.5" r="2.7"/><circle cx="77.2" cy="402.8" r="2.7"/><circle cx="76.2" cy="405.2" r="2.7"/><circle cx="56.5" cy="404.2" r="2.7"/><circle cx="61.2" cy="404.7" r="2.7"/><circle cx="65.4" cy="404.7" r="2.7"/><circle cx="53.6" cy="408.5" r="2.7"/><circle cx="45.2" cy="409.9" r="2.7"/><circle cx="51.8" cy="413.2" r="2.7"/><circle cx="68.2" cy="412.2" r="2.7"/><circle cx="74.3" cy="412.7" r="2.7"/><circle cx="84.2" cy="414.1" r="2.7"/><circle cx="96.4" cy="412.0" r="2.7"/><circle cx="79.5" cy="417.0" r="2.7"/><circle cx="107.3" cy="405.2" r="2.7"/><circle cx="105.9" cy="409.4" r="2.7"/><circle cx="56.3" cy="418.5" r="2.7"/><circle cx="76.5" cy="427.7" r="2.7"/><circle cx="77.2" cy="433.5" r="2.7"/><circle cx="100.2" cy="429.6" r="2.7"/><circle cx="138.9" cy="334.9" r="2.7"/><circle cx="138.4" cy="365.9" r="2.7"/><circle cx="132.8" cy="368.7" r="2.7"/><circle cx="138.4" cy="369.2" r="2.7"/><circle cx="130.9" cy="373.3" r="2.7"/><circle cx="139.3" cy="373.8" r="2.7"/><circle cx="134.2" cy="369.9" r="2.7"/><circle cx="137.9" cy="369.4" r="2.7"/><circle cx="153.4" cy="379.3" r="2.7"/><circle cx="109.7" cy="377.9" r="2.7"/><circle cx="106.9" cy="381.2" r="2.7"/><circle cx="105.9" cy="384.9" r="2.7"/><circle cx="117.2" cy="383.1" r="2.7"/><circle cx="123.3" cy="383.1" r="2.7"/><circle cx="120.5" cy="386.8" r="2.7"/><circle cx="138.9" cy="384.5" r="2.7"/><circle cx="140.7" cy="387.8" r="2.7"/><circle cx="131.8" cy="386.8" r="2.7"/><circle cx="147.8" cy="389.6" r="2.7"/><circle cx="155.8" cy="388.7" r="2.7"/><circle cx="164.3" cy="384.0" r="2.7"/><circle cx="171.3" cy="383.1" r="2.7"/><circle cx="169.9" cy="386.8" r="2.7"/><circle cx="166.1" cy="389.6" r="2.7"/><circle cx="172.7" cy="390.6" r="2.7"/><circle cx="160.5" cy="391.5" r="2.7"/><circle cx="167.1" cy="395.3" r="2.7"/><circle cx="170.9" cy="396.6" r="2.7"/><circle cx="166.1" cy="399.0" r="2.7"/><circle cx="123.3" cy="390.6" r="2.7"/><circle cx="126.6" cy="391.0" r="2.7"/><circle cx="123.8" cy="393.9" r="2.7"/><circle cx="121.9" cy="398.1" r="2.7"/><circle cx="112.1" cy="395.3" r="2.7"/><circle cx="106.4" cy="392.9" r="2.7"/><circle cx="145.0" cy="394.3" r="2.7"/><circle cx="150.2" cy="396.2" r="2.7"/><circle cx="128.5" cy="398.6" r="2.7"/><circle cx="136.0" cy="397.2" r="2.7"/><circle cx="132.3" cy="400.9" r="2.7"/><circle cx="135.1" cy="400.9" r="2.7"/><circle cx="122.9" cy="402.3" r="2.7"/><circle cx="129.5" cy="401.9" r="2.7"/><circle cx="143.1" cy="400.5" r="2.7"/><circle cx="146.4" cy="398.1" r="2.7"/><circle cx="150.2" cy="400.9" r="2.7"/><circle cx="152.0" cy="404.7" r="2.7"/><circle cx="160.5" cy="400.9" r="2.7"/><circle cx="160.5" cy="404.7" r="2.7"/><circle cx="112.1" cy="402.3" r="2.7"/><circle cx="112.1" cy="408.5" r="2.7"/><circle cx="116.8" cy="408.9" r="2.7"/><circle cx="122.4" cy="411.3" r="2.7"/><circle cx="125.2" cy="415.8" r="2.7"/><circle cx="132.8" cy="408.6" r="2.7"/><circle cx="142.4" cy="410.8" r="2.7"/><circle cx="174.6" cy="408.5" r="2.7"/><circle cx="118.2" cy="418.5" r="2.7"/><circle cx="123.3" cy="436.2" r="2.7"/><circle cx="125.2" cy="442.0" r="2.7"/><circle cx="163.8" cy="426.9" r="2.7"/><circle cx="165.0" cy="429.8" r="2.7"/><circle cx="173.2" cy="419.4" r="2.7"/><circle cx="186.9" cy="351.5" r="2.7"/><circle cx="187.2" cy="356.8" r="2.7"/><circle cx="229.7" cy="361.8" r="2.7"/><circle cx="180.3" cy="375.7" r="2.7"/><circle cx="179.4" cy="384.1" r="2.7"/><circle cx="195.9" cy="382.0" r="2.7"/><circle cx="213.3" cy="384.6" r="2.7"/><circle cx="235.9" cy="376.9" r="2.7"/><circle cx="239.6" cy="372.6" r="2.7"/><circle cx="236.3" cy="383.0" r="2.7"/><circle cx="185.1" cy="388.2" r="2.7"/><circle cx="174.7" cy="387.2" r="2.7"/><circle cx="171.9" cy="390.1" r="2.7"/><circle cx="177.1" cy="391.9" r="2.7"/><circle cx="173.8" cy="394.8" r="2.7"/><circle cx="177.1" cy="396.2" r="2.7"/><circle cx="182.7" cy="394.8" r="2.7"/><circle cx="195.4" cy="386.3" r="2.7"/><circle cx="193.0" cy="390.1" r="2.7"/><circle cx="201.0" cy="390.1" r="2.7"/><circle cx="197.3" cy="392.9" r="2.7"/><circle cx="194.5" cy="393.8" r="2.7"/><circle cx="190.7" cy="397.6" r="2.7"/><circle cx="193.0" cy="399.9" r="2.7"/><circle cx="198.2" cy="399.0" r="2.7"/><circle cx="201.0" cy="399.5" r="2.7"/><circle cx="204.3" cy="398.0" r="2.7"/><circle cx="201.0" cy="395.2" r="2.7"/><circle cx="207.6" cy="389.6" r="2.7"/><circle cx="210.9" cy="387.2" r="2.7"/><circle cx="218.9" cy="387.2" r="2.7"/><circle cx="217.0" cy="390.5" r="2.7"/><circle cx="220.3" cy="391.9" r="2.7"/><circle cx="211.9" cy="397.1" r="2.7"/><circle cx="218.9" cy="398.0" r="2.7"/><circle cx="222.2" cy="398.5" r="2.7"/><circle cx="216.6" cy="401.8" r="2.7"/><circle cx="226.0" cy="392.4" r="2.7"/><circle cx="227.4" cy="389.1" r="2.7"/><circle cx="231.1" cy="390.1" r="2.7"/><circle cx="233.0" cy="387.2" r="2.7"/><circle cx="239.1" cy="384.4" r="2.7"/><circle cx="239.6" cy="389.1" r="2.7"/><circle cx="234.9" cy="396.6" r="2.7"/><circle cx="234.9" cy="401.3" r="2.7"/><circle cx="231.1" cy="403.2" r="2.7"/><circle cx="183.6" cy="404.6" r="2.7"/><circle cx="187.4" cy="403.7" r="2.7"/><circle cx="175.2" cy="407.9" r="2.7"/><circle cx="186.7" cy="409.8" r="2.7"/><circle cx="197.6" cy="406.3" r="2.7"/><circle cx="206.2" cy="408.9" r="2.7"/><circle cx="204.8" cy="412.2" r="2.7"/><circle cx="189.3" cy="414.3" r="2.7"/><circle cx="228.8" cy="419.3" r="2.7"/><circle cx="181.7" cy="424.1" r="2.7"/><circle cx="193.2" cy="434.6" r="2.7"/><circle cx="224.6" cy="434.6" r="2.7"/><circle cx="252.7" cy="352.2" r="2.7"/><circle cx="265.6" cy="354.3" r="2.7"/><circle cx="261.6" cy="356.8" r="2.7"/><circle cx="278.1" cy="352.7" r="2.7"/><circle cx="294.1" cy="353.8" r="2.7"/><circle cx="299.3" cy="358.3" r="2.7"/><circle cx="242.5" cy="362.8" r="2.7"/><circle cx="275.2" cy="368.9" r="2.7"/><circle cx="241.6" cy="370.3" r="2.7"/><circle cx="244.4" cy="371.2" r="2.7"/><circle cx="250.3" cy="371.7" r="2.7"/><circle cx="240.2" cy="373.6" r="2.7"/><circle cx="236.4" cy="376.4" r="2.7"/><circle cx="239.2" cy="377.3" r="2.7"/><circle cx="243.9" cy="376.9" r="2.7"/><circle cx="270.7" cy="375.0" r="2.7"/><circle cx="272.2" cy="376.9" r="2.7"/><circle cx="278.5" cy="376.2" r="2.7"/><circle cx="281.6" cy="375.0" r="2.7"/><circle cx="258.5" cy="378.7" r="2.7"/><circle cx="255.7" cy="381.1" r="2.7"/><circle cx="261.3" cy="381.1" r="2.7"/><circle cx="267.5" cy="381.1" r="2.7"/><circle cx="270.7" cy="383.0" r="2.7"/><circle cx="280.4" cy="381.6" r="2.7"/><circle cx="240.2" cy="382.0" r="2.7"/><circle cx="247.2" cy="383.0" r="2.7"/><circle cx="253.8" cy="383.0" r="2.7"/><circle cx="292.9" cy="384.1" r="2.7"/><circle cx="303.7" cy="383.6" r="2.7"/><circle cx="261.8" cy="383.0" r="2.7"/><circle cx="236.4" cy="384.0" r="2.7"/><circle cx="238.8" cy="389.6" r="2.7"/><circle cx="256.6" cy="387.2" r="2.7"/><circle cx="262.3" cy="388.2" r="2.7"/><circle cx="266.0" cy="387.2" r="2.7"/><circle cx="270.3" cy="389.1" r="2.7"/><circle cx="255.7" cy="391.9" r="2.7"/><circle cx="259.5" cy="391.5" r="2.7"/><circle cx="264.2" cy="392.4" r="2.7"/><circle cx="268.4" cy="392.9" r="2.7"/><circle cx="272.6" cy="392.4" r="2.7"/><circle cx="256.6" cy="395.2" r="2.7"/><circle cx="261.3" cy="396.2" r="2.7"/><circle cx="265.1" cy="397.1" r="2.7"/><circle cx="271.7" cy="395.7" r="2.7"/><circle cx="276.4" cy="390.1" r="2.7"/><circle cx="280.2" cy="387.2" r="2.7"/><circle cx="282.0" cy="391.9" r="2.7"/><circle cx="278.3" cy="393.8" r="2.7"/><circle cx="276.4" cy="397.6" r="2.7"/><circle cx="281.1" cy="399.9" r="2.7"/><circle cx="285.8" cy="398.0" r="2.7"/><circle cx="273.1" cy="402.3" r="2.7"/><circle cx="287.2" cy="393.8" r="2.7"/><circle cx="296.1" cy="399.0" r="2.7"/><circle cx="299.9" cy="392.4" r="2.7"/><circle cx="302.7" cy="396.6" r="2.7"/><circle cx="252.7" cy="401.8" r="2.7"/><circle cx="245.5" cy="404.2" r="2.7"/><circle cx="247.9" cy="410.6" r="2.7"/><circle cx="280.0" cy="410.3" r="2.7"/><circle cx="287.0" cy="409.8" r="2.7"/><circle cx="280.0" cy="418.4" r="2.7"/><circle cx="299.9" cy="404.2" r="2.7"/><circle cx="299.0" cy="407.9" r="2.7"/><circle cx="303.7" cy="406.0" r="2.7"/><circle cx="300.9" cy="412.6" r="2.7"/><circle cx="303.7" cy="409.8" r="2.7"/><circle cx="246.2" cy="424.0" r="2.7"/><circle cx="252.7" cy="427.2" r="2.7"/><circle cx="300.1" cy="430.7" r="2.7"/><circle cx="324.5" cy="369.6" r="2.7"/><circle cx="307.1" cy="375.7" r="2.7"/><circle cx="309.7" cy="382.7" r="2.7"/><circle cx="358.8" cy="377.3" r="2.7"/><circle cx="306.1" cy="389.1" r="2.7"/><circle cx="301.4" cy="392.4" r="2.7"/><circle cx="304.7" cy="393.8" r="2.7"/><circle cx="303.8" cy="397.6" r="2.7"/><circle cx="309.4" cy="395.2" r="2.7"/><circle cx="313.2" cy="392.9" r="2.7"/><circle cx="317.4" cy="390.1" r="2.7"/><circle cx="320.2" cy="391.9" r="2.7"/><circle cx="323.5" cy="392.9" r="2.7"/><circle cx="320.7" cy="395.2" r="2.7"/><circle cx="325.4" cy="395.7" r="2.7"/><circle cx="328.2" cy="398.0" r="2.7"/><circle cx="337.6" cy="388.2" r="2.7"/><circle cx="341.4" cy="390.1" r="2.7"/><circle cx="337.6" cy="391.9" r="2.7"/><circle cx="334.3" cy="395.7" r="2.7"/><circle cx="340.5" cy="394.8" r="2.7"/><circle cx="346.6" cy="393.3" r="2.7"/><circle cx="344.2" cy="396.6" r="2.7"/><circle cx="351.3" cy="387.7" r="2.7"/><circle cx="356.4" cy="388.6" r="2.7"/><circle cx="356.4" cy="397.6" r="2.7"/><circle cx="359.3" cy="395.2" r="2.7"/><circle cx="359.3" cy="399.9" r="2.7"/><circle cx="350.8" cy="399.0" r="2.7"/><circle cx="348.4" cy="402.3" r="2.7"/><circle cx="342.8" cy="401.3" r="2.7"/><circle cx="342.3" cy="405.1" r="2.7"/><circle cx="336.7" cy="403.2" r="2.7"/><circle cx="335.3" cy="406.5" r="2.7"/><circle cx="329.2" cy="405.1" r="2.7"/><circle cx="324.0" cy="407.5" r="2.7"/><circle cx="313.2" cy="401.3" r="2.7"/><circle cx="316.5" cy="407.0" r="2.7"/><circle cx="305.2" cy="404.2" r="2.7"/><circle cx="300.9" cy="405.1" r="2.7"/><circle cx="306.1" cy="408.4" r="2.7"/><circle cx="353.4" cy="407.5" r="2.7"/><circle cx="357.9" cy="410.6" r="2.7"/><circle cx="312.2" cy="418.7" r="2.7"/><circle cx="344.2" cy="419.8" r="2.7"/><circle cx="308.6" cy="425.5" r="2.7"/><circle cx="332.1" cy="426.0" r="2.7"/><circle cx="358.8" cy="425.5" r="2.7"/><circle cx="358.8" cy="441.3" r="2.7"/>
</g>
<g class="r" clip-path="url(#cc)">
<circle cx="102.6" cy="391.5" r="2.7"/><circle cx="103.0" cy="396.2" r="2.7"/><circle cx="99.7" cy="399.0" r="2.7"/><circle cx="96.3" cy="401.4" r="2.7"/><circle cx="62.3" cy="409.2" r="2.7"/><circle cx="44.7" cy="417.1" r="2.7"/><circle cx="145.0" cy="379.1" r="2.7"/><circle cx="152.5" cy="383.1" r="2.7"/><circle cx="134.4" cy="388.7" r="2.7"/><circle cx="160.3" cy="394.6" r="2.7"/><circle cx="116.5" cy="415.8" r="2.7"/><circle cx="172.3" cy="417.5" r="2.7"/><circle cx="211.9" cy="358.3" r="2.7"/><circle cx="226.9" cy="356.6" r="2.7"/><circle cx="182.7" cy="388.6" r="2.7"/><circle cx="206.7" cy="394.8" r="2.7"/><circle cx="215.3" cy="395.2" r="2.7"/><circle cx="231.4" cy="414.8" r="2.7"/><circle cx="244.9" cy="388.2" r="2.7"/><circle cx="247.7" cy="391.0" r="2.7"/><circle cx="251.7" cy="397.6" r="2.7"/><circle cx="257.6" cy="400.4" r="2.7"/><circle cx="288.4" cy="390.8" r="2.7"/><circle cx="298.2" cy="387.2" r="2.7"/><circle cx="296.1" cy="390.1" r="2.7"/><circle cx="293.1" cy="394.3" r="2.7"/><circle cx="242.5" cy="412.6" r="2.7"/><circle cx="241.4" cy="422.1" r="2.7"/><circle cx="260.4" cy="420.6" r="2.7"/><circle cx="266.5" cy="419.2" r="2.7"/><circle cx="304.1" cy="417.8" r="2.7"/><circle cx="322.1" cy="378.5" r="2.7"/><circle cx="352.2" cy="394.3" r="2.7"/><circle cx="327.3" cy="400.9" r="2.7"/><circle cx="319.3" cy="402.8" r="2.7"/><circle cx="326.2" cy="412.6" r="2.7"/><circle cx="337.6" cy="411.7" r="2.7"/><circle cx="317.4" cy="414.3" r="2.7"/>
</g>
<line x1="425.3" y1="392.00" x2="741.9" y2="392.00" stroke="#cfcfcf" stroke-width="1.25" stroke-dasharray="2.1 2.3"/>
<rect x="425.3" y="280.1" width="316.6" height="224.0" fill="none" stroke="#cecece" stroke-width="1.05"/>
<path d="M425.30 504.1v-4.5M425.30 280.1v4.5M437.48 504.1v-2.2M437.48 280.1v2.2M449.65 504.1v-2.2M449.65 280.1v2.2M461.83 504.1v-2.2M461.83 280.1v2.2M474.01 504.1v-4.5M474.01 280.1v4.5M486.18 504.1v-2.2M486.18 280.1v2.2M498.36 504.1v-2.2M498.36 280.1v2.2M510.54 504.1v-2.2M510.54 280.1v2.2M522.72 504.1v-4.5M522.72 280.1v4.5M534.89 504.1v-2.2M534.89 280.1v2.2M547.07 504.1v-2.2M547.07 280.1v2.2M559.25 504.1v-2.2M559.25 280.1v2.2M571.42 504.1v-4.5M571.42 280.1v4.5M583.60 504.1v-2.2M583.60 280.1v2.2M595.78 504.1v-2.2M595.78 280.1v2.2M607.95 504.1v-2.2M607.95 280.1v2.2M620.13 504.1v-4.5M620.13 280.1v4.5M632.31 504.1v-2.2M632.31 280.1v2.2M644.48 504.1v-2.2M644.48 280.1v2.2M656.66 504.1v-2.2M656.66 280.1v2.2M668.84 504.1v-4.5M668.84 280.1v4.5M681.02 504.1v-2.2M681.02 280.1v2.2M693.19 504.1v-2.2M693.19 280.1v2.2M705.37 504.1v-2.2M705.37 280.1v2.2M717.55 504.1v-4.5M717.55 280.1v4.5M729.72 504.1v-2.2M729.72 280.1v2.2M741.90 504.1v-2.2M741.90 280.1v2.2M425.3 504.10h6.4M741.9 504.10h-6.4M425.3 492.90h3.2M741.9 492.90h-3.2M425.3 481.70h3.2M741.9 481.70h-3.2M425.3 470.50h3.2M741.9 470.50h-3.2M425.3 459.30h3.2M741.9 459.30h-3.2M425.3 448.10h6.4M741.9 448.10h-6.4M425.3 436.90h3.2M741.9 436.90h-3.2M425.3 425.70h3.2M741.9 425.70h-3.2M425.3 414.50h3.2M741.9 414.50h-3.2M425.3 403.30h3.2M741.9 403.30h-3.2M425.3 392.10h6.4M741.9 392.10h-6.4M425.3 380.90h3.2M741.9 380.90h-3.2M425.3 369.70h3.2M741.9 369.70h-3.2M425.3 358.50h3.2M741.9 358.50h-3.2M425.3 347.30h3.2M741.9 347.30h-3.2M425.3 336.10h6.4M741.9 336.10h-6.4M425.3 324.90h3.2M741.9 324.90h-3.2M425.3 313.70h3.2M741.9 313.70h-3.2M425.3 302.50h3.2M741.9 302.50h-3.2M425.3 291.30h3.2M741.9 291.30h-3.2M425.3 280.10h6.4M741.9 280.10h-6.4" stroke="#d6d6d6" stroke-width="1" fill="none"/>
<g class="k" clip-path="url(#cd)">
<circle cx="523.1" cy="384.9" r="2.7"/><circle cx="522.5" cy="388.2" r="2.7"/><circle cx="523.2" cy="391.7" r="2.7"/><circle cx="526.2" cy="385.2" r="2.7"/><circle cx="526.0" cy="388.5" r="2.7"/><circle cx="526.0" cy="391.0" r="2.7"/><circle cx="529.5" cy="385.1" r="2.7"/><circle cx="529.6" cy="389.0" r="2.7"/><circle cx="528.4" cy="391.5" r="2.7"/><circle cx="529.4" cy="395.1" r="2.7"/><circle cx="528.9" cy="397.2" r="2.7"/><circle cx="531.7" cy="386.0" r="2.7"/><circle cx="531.7" cy="388.6" r="2.7"/><circle cx="531.6" cy="391.5" r="2.7"/><circle cx="532.5" cy="394.1" r="2.7"/><circle cx="532.4" cy="397.5" r="2.7"/><circle cx="535.5" cy="385.7" r="2.7"/><circle cx="534.7" cy="389.0" r="2.7"/><circle cx="535.0" cy="390.9" r="2.7"/><circle cx="534.4" cy="394.5" r="2.7"/><circle cx="534.9" cy="397.3" r="2.7"/><circle cx="537.6" cy="385.3" r="2.7"/><circle cx="537.8" cy="388.9" r="2.7"/><circle cx="537.4" cy="391.8" r="2.7"/><circle cx="538.4" cy="394.0" r="2.7"/><circle cx="538.5" cy="397.8" r="2.7"/><circle cx="547.0" cy="389.5" r="2.7"/><circle cx="550.0" cy="392.5" r="2.7"/><circle cx="553.0" cy="390.5" r="2.7"/><circle cx="549.0" cy="396.0" r="2.7"/><circle cx="552.5" cy="395.0" r="2.7"/><circle cx="554.5" cy="398.0" r="2.7"/><circle cx="548.5" cy="400.5" r="2.7"/><circle cx="552.0" cy="402.0" r="2.7"/><circle cx="487.0" cy="391.5" r="2.7"/><circle cx="490.0" cy="395.5" r="2.7"/><circle cx="493.0" cy="393.0" r="2.7"/><circle cx="496.0" cy="393.5" r="2.7"/><circle cx="489.0" cy="398.0" r="2.7"/><circle cx="492.0" cy="397.0" r="2.7"/><circle cx="502.0" cy="393.0" r="2.7"/><circle cx="505.0" cy="394.5" r="2.7"/><circle cx="507.0" cy="397.5" r="2.7"/><circle cx="510.0" cy="392.0" r="2.7"/><circle cx="510.0" cy="397.0" r="2.7"/><circle cx="515.0" cy="391.0" r="2.7"/><circle cx="515.0" cy="395.5" r="2.7"/><circle cx="519.0" cy="390.0" r="2.7"/><circle cx="519.5" cy="395.5" r="2.7"/><circle cx="504.0" cy="399.5" r="2.7"/><circle cx="516.5" cy="400.5" r="2.7"/><circle cx="459.0" cy="387.0" r="2.7"/><circle cx="462.5" cy="391.0" r="2.7"/><circle cx="458.0" cy="392.5" r="2.7"/><circle cx="486.6" cy="351.7" r="2.7"/><circle cx="449.4" cy="371.7" r="2.7"/><circle cx="475.5" cy="369.4" r="2.7"/><circle cx="469.9" cy="372.5" r="2.7"/><circle cx="473.2" cy="375.3" r="2.7"/><circle cx="476.7" cy="380.7" r="2.7"/><circle cx="487.3" cy="376.8" r="2.7"/><circle cx="460.0" cy="379.2" r="2.7"/><circle cx="450.1" cy="381.1" r="2.7"/><circle cx="485.9" cy="383.7" r="2.7"/><circle cx="464.7" cy="384.4" r="2.7"/><circle cx="456.2" cy="384.4" r="2.7"/><circle cx="445.4" cy="385.8" r="2.7"/><circle cx="436.9" cy="386.3" r="2.7"/><circle cx="429.9" cy="387.7" r="2.7"/><circle cx="480.2" cy="389.1" r="2.7"/><circle cx="487.7" cy="388.0" r="2.7"/><circle cx="425.6" cy="389.4" r="2.7"/><circle cx="426.1" cy="390.2" r="2.7"/><circle cx="451.0" cy="385.5" r="2.7"/><circle cx="461.4" cy="388.3" r="2.7"/><circle cx="464.2" cy="390.2" r="2.7"/><circle cx="460.5" cy="392.1" r="2.7"/><circle cx="467.0" cy="392.1" r="2.7"/><circle cx="470.8" cy="393.1" r="2.7"/><circle cx="461.4" cy="394.9" r="2.7"/><circle cx="457.6" cy="394.0" r="2.7"/><circle cx="441.6" cy="393.1" r="2.7"/><circle cx="443.5" cy="394.9" r="2.7"/><circle cx="438.8" cy="395.9" r="2.7"/><circle cx="450.1" cy="394.9" r="2.7"/><circle cx="432.2" cy="397.8" r="2.7"/><circle cx="435.2" cy="402.3" r="2.7"/><circle cx="449.2" cy="399.6" r="2.7"/><circle cx="454.8" cy="401.5" r="2.7"/><circle cx="472.7" cy="396.8" r="2.7"/><circle cx="475.5" cy="398.2" r="2.7"/><circle cx="484.9" cy="388.3" r="2.7"/><circle cx="487.7" cy="390.2" r="2.7"/><circle cx="484.0" cy="392.1" r="2.7"/><circle cx="481.1" cy="395.4" r="2.7"/><circle cx="489.1" cy="395.4" r="2.7"/><circle cx="487.3" cy="400.1" r="2.7"/><circle cx="481.0" cy="402.6" r="2.7"/><circle cx="468.9" cy="404.3" r="2.7"/><circle cx="470.8" cy="406.7" r="2.7"/><circle cx="483.0" cy="408.1" r="2.7"/><circle cx="442.3" cy="410.9" r="2.7"/><circle cx="466.1" cy="418.9" r="2.7"/><circle cx="455.7" cy="426.5" r="2.7"/><circle cx="428.5" cy="392.0" r="2.7"/><circle cx="436.5" cy="391.5" r="2.7"/><circle cx="445.0" cy="392.0" r="2.7"/><circle cx="440.5" cy="388.5" r="2.7"/><circle cx="449.5" cy="388.0" r="2.7"/><circle cx="432.0" cy="391.0" r="2.7"/><circle cx="458.5" cy="390.5" r="2.7"/><circle cx="474.5" cy="393.5" r="2.7"/><circle cx="478.5" cy="395.5" r="2.7"/><circle cx="523.1" cy="367.3" r="2.7"/><circle cx="531.4" cy="367.7" r="2.7"/><circle cx="542.6" cy="369.6" r="2.7"/><circle cx="511.3" cy="370.6" r="2.7"/><circle cx="532.0" cy="375.0" r="2.7"/><circle cx="540.0" cy="376.9" r="2.7"/><circle cx="494.4" cy="376.2" r="2.7"/><circle cx="510.9" cy="375.5" r="2.7"/><circle cx="514.2" cy="378.7" r="2.7"/><circle cx="508.5" cy="380.4" r="2.7"/><circle cx="495.8" cy="381.6" r="2.7"/><circle cx="522.6" cy="383.0" r="2.7"/><circle cx="529.2" cy="383.4" r="2.7"/><circle cx="534.9" cy="382.5" r="2.7"/><circle cx="542.4" cy="383.0" r="2.7"/><circle cx="554.1" cy="382.0" r="2.7"/><circle cx="505.7" cy="384.1" r="2.7"/><circle cx="515.1" cy="383.0" r="2.7"/><circle cx="486.4" cy="384.4" r="2.7"/><circle cx="494.9" cy="386.8" r="2.7"/><circle cx="486.9" cy="389.1" r="2.7"/><circle cx="499.1" cy="390.5" r="2.7"/><circle cx="492.5" cy="391.0" r="2.7"/><circle cx="488.3" cy="393.8" r="2.7"/><circle cx="494.4" cy="395.2" r="2.7"/><circle cx="497.2" cy="396.6" r="2.7"/><circle cx="500.0" cy="400.4" r="2.7"/><circle cx="501.5" cy="396.2" r="2.7"/><circle cx="504.8" cy="391.0" r="2.7"/><circle cx="509.0" cy="389.6" r="2.7"/><circle cx="513.2" cy="389.1" r="2.7"/><circle cx="517.9" cy="387.2" r="2.7"/><circle cx="512.3" cy="393.8" r="2.7"/><circle cx="517.0" cy="392.4" r="2.7"/><circle cx="513.7" cy="398.0" r="2.7"/><circle cx="517.5" cy="398.5" r="2.7"/><circle cx="512.3" cy="400.4" r="2.7"/><circle cx="507.6" cy="407.5" r="2.7"/><circle cx="519.3" cy="404.0" r="2.7"/><circle cx="515.3" cy="407.7" r="2.7"/><circle cx="525.5" cy="405.1" r="2.7"/><circle cx="526.9" cy="412.2" r="2.7"/><circle cx="514.4" cy="419.2" r="2.7"/><circle cx="524.5" cy="386.3" r="2.7"/><circle cx="529.2" cy="387.2" r="2.7"/><circle cx="525.5" cy="390.1" r="2.7"/><circle cx="531.1" cy="390.5" r="2.7"/><circle cx="535.8" cy="387.2" r="2.7"/><circle cx="541.4" cy="385.3" r="2.7"/><circle cx="537.7" cy="391.0" r="2.7"/><circle cx="527.3" cy="393.8" r="2.7"/><circle cx="532.0" cy="394.8" r="2.7"/><circle cx="536.7" cy="394.8" r="2.7"/><circle cx="530.2" cy="398.5" r="2.7"/><circle cx="534.9" cy="399.0" r="2.7"/><circle cx="539.6" cy="398.5" r="2.7"/><circle cx="542.4" cy="395.2" r="2.7"/><circle cx="546.1" cy="391.9" r="2.7"/><circle cx="549.9" cy="389.1" r="2.7"/><circle cx="553.7" cy="388.2" r="2.7"/><circle cx="547.1" cy="397.6" r="2.7"/><circle cx="550.9" cy="399.5" r="2.7"/><circle cx="543.3" cy="401.8" r="2.7"/><circle cx="533.4" cy="404.6" r="2.7"/><circle cx="546.1" cy="405.1" r="2.7"/><circle cx="554.1" cy="406.0" r="2.7"/><circle cx="538.4" cy="409.3" r="2.7"/><circle cx="545.2" cy="411.0" r="2.7"/><circle cx="553.9" cy="424.4" r="2.7"/><circle cx="541.0" cy="427.2" r="2.7"/><circle cx="551.2" cy="434.6" r="2.7"/><circle cx="490.5" cy="397.5" r="2.7"/><circle cx="493.0" cy="399.0" r="2.7"/><circle cx="505.5" cy="398.5" r="2.7"/><circle cx="508.5" cy="399.5" r="2.7"/><circle cx="521.0" cy="389.0" r="2.7"/><circle cx="521.5" cy="393.0" r="2.7"/><circle cx="522.5" cy="397.0" r="2.7"/><circle cx="541.0" cy="390.0" r="2.7"/><circle cx="545.0" cy="394.5" r="2.7"/><circle cx="604.4" cy="334.7" r="2.7"/><circle cx="559.1" cy="342.2" r="2.7"/><circle cx="570.5" cy="352.1" r="2.7"/><circle cx="572.6" cy="354.5" r="2.7"/><circle cx="572.9" cy="357.1" r="2.7"/><circle cx="591.9" cy="352.9" r="2.7"/><circle cx="620.6" cy="353.9" r="2.7"/><circle cx="579.4" cy="361.7" r="2.7"/><circle cx="561.1" cy="363.4" r="2.7"/><circle cx="606.4" cy="366.2" r="2.7"/><circle cx="558.0" cy="371.4" r="2.7"/><circle cx="572.6" cy="371.7" r="2.7"/><circle cx="577.6" cy="373.5" r="2.7"/><circle cx="566.9" cy="373.8" r="2.7"/><circle cx="565.5" cy="376.7" r="2.7"/><circle cx="582.5" cy="378.1" r="2.7"/><circle cx="609.3" cy="378.1" r="2.7"/><circle cx="561.3" cy="379.5" r="2.7"/><circle cx="588.6" cy="380.6" r="2.7"/><circle cx="582.5" cy="381.4" r="2.7"/><circle cx="584.8" cy="383.8" r="2.7"/><circle cx="596.6" cy="384.2" r="2.7"/><circle cx="596.6" cy="386.1" r="2.7"/><circle cx="606.9" cy="383.5" r="2.7"/><circle cx="617.7" cy="388.0" r="2.7"/><circle cx="608.8" cy="389.7" r="2.7"/><circle cx="557.5" cy="383.3" r="2.7"/><circle cx="563.2" cy="384.2" r="2.7"/><circle cx="568.8" cy="383.8" r="2.7"/><circle cx="566.5" cy="380.5" r="2.7"/><circle cx="553.8" cy="386.1" r="2.7"/><circle cx="559.4" cy="387.5" r="2.7"/><circle cx="565.1" cy="387.5" r="2.7"/><circle cx="550.9" cy="389.9" r="2.7"/><circle cx="555.6" cy="390.8" r="2.7"/><circle cx="552.8" cy="393.2" r="2.7"/><circle cx="581.0" cy="391.8" r="2.7"/><circle cx="583.4" cy="395.5" r="2.7"/><circle cx="592.6" cy="391.6" r="2.7"/><circle cx="570.7" cy="392.2" r="2.7"/><circle cx="567.9" cy="393.6" r="2.7"/><circle cx="572.6" cy="395.0" r="2.7"/><circle cx="561.8" cy="395.0" r="2.7"/><circle cx="558.0" cy="400.2" r="2.7"/><circle cx="567.9" cy="398.3" r="2.7"/><circle cx="571.6" cy="399.3" r="2.7"/><circle cx="564.1" cy="401.6" r="2.7"/><circle cx="569.8" cy="403.0" r="2.7"/><circle cx="551.9" cy="400.2" r="2.7"/><circle cx="551.9" cy="404.9" r="2.7"/><circle cx="553.0" cy="407.0" r="2.7"/><circle cx="556.6" cy="408.7" r="2.7"/><circle cx="560.8" cy="411.5" r="2.7"/><circle cx="565.5" cy="408.7" r="2.7"/><circle cx="569.8" cy="406.3" r="2.7"/><circle cx="567.9" cy="412.9" r="2.7"/><circle cx="578.2" cy="398.6" r="2.7"/><circle cx="579.4" cy="404.9" r="2.7"/><circle cx="576.3" cy="410.6" r="2.7"/><circle cx="576.3" cy="412.5" r="2.7"/><circle cx="583.4" cy="409.6" r="2.7"/><circle cx="584.8" cy="405.4" r="2.7"/><circle cx="588.6" cy="404.0" r="2.7"/><circle cx="591.4" cy="402.1" r="2.7"/><circle cx="592.8" cy="398.8" r="2.7"/><circle cx="599.4" cy="393.2" r="2.7"/><circle cx="603.6" cy="394.1" r="2.7"/><circle cx="602.2" cy="397.4" r="2.7"/><circle cx="597.0" cy="398.3" r="2.7"/><circle cx="598.9" cy="401.2" r="2.7"/><circle cx="605.5" cy="399.3" r="2.7"/><circle cx="608.8" cy="400.7" r="2.7"/><circle cx="601.3" cy="405.9" r="2.7"/><circle cx="612.8" cy="404.3" r="2.7"/><circle cx="607.2" cy="408.7" r="2.7"/><circle cx="595.2" cy="409.6" r="2.7"/><circle cx="598.9" cy="411.5" r="2.7"/><circle cx="593.7" cy="412.9" r="2.7"/><circle cx="602.2" cy="412.9" r="2.7"/><circle cx="589.5" cy="417.2" r="2.7"/><circle cx="584.3" cy="418.3" r="2.7"/><circle cx="615.6" cy="416.2" r="2.7"/><circle cx="619.4" cy="406.8" r="2.7"/><circle cx="569.1" cy="426.1" r="2.7"/><circle cx="583.9" cy="429.6" r="2.7"/><circle cx="590.0" cy="427.2" r="2.7"/><circle cx="594.2" cy="426.1" r="2.7"/><circle cx="603.3" cy="427.8" r="2.7"/><circle cx="614.5" cy="430.7" r="2.7"/><circle cx="605.2" cy="436.3" r="2.7"/><circle cx="595.0" cy="441.4" r="2.7"/><circle cx="559.6" cy="441.9" r="2.7"/><circle cx="556.0" cy="385.5" r="2.7"/><circle cx="561.0" cy="386.0" r="2.7"/><circle cx="562.5" cy="390.5" r="2.7"/><circle cx="558.5" cy="392.5" r="2.7"/><circle cx="555.0" cy="396.0" r="2.7"/><circle cx="553.0" cy="398.0" r="2.7"/><circle cx="632.4" cy="356.6" r="2.7"/><circle cx="641.8" cy="358.2" r="2.7"/><circle cx="643.7" cy="362.9" r="2.7"/><circle cx="629.6" cy="368.9" r="2.7"/><circle cx="657.1" cy="368.9" r="2.7"/><circle cx="667.4" cy="374.0" r="2.7"/><circle cx="629.6" cy="375.7" r="2.7"/><circle cx="633.3" cy="378.1" r="2.7"/><circle cx="632.9" cy="381.9" r="2.7"/><circle cx="623.7" cy="382.3" r="2.7"/><circle cx="629.6" cy="386.4" r="2.7"/><circle cx="659.7" cy="388.0" r="2.7"/><circle cx="663.0" cy="388.0" r="2.7"/><circle cx="630.5" cy="392.9" r="2.7"/><circle cx="638.5" cy="391.8" r="2.7"/><circle cx="655.6" cy="395.3" r="2.7"/><circle cx="636.6" cy="398.1" r="2.7"/><circle cx="631.5" cy="401.2" r="2.7"/><circle cx="632.9" cy="404.5" r="2.7"/><circle cx="639.9" cy="404.3" r="2.7"/><circle cx="644.4" cy="404.7" r="2.7"/><circle cx="659.9" cy="403.7" r="2.7"/><circle cx="676.4" cy="404.2" r="2.7"/><circle cx="681.0" cy="408.2" r="2.7"/><circle cx="656.4" cy="408.7" r="2.7"/><circle cx="646.5" cy="410.4" r="2.7"/><circle cx="619.7" cy="410.1" r="2.7"/><circle cx="629.1" cy="410.4" r="2.7"/><circle cx="632.7" cy="414.3" r="2.7"/><circle cx="637.9" cy="414.3" r="2.7"/><circle cx="621.8" cy="417.7" r="2.7"/><circle cx="626.3" cy="419.8" r="2.7"/><circle cx="646.0" cy="419.0" r="2.7"/><circle cx="648.7" cy="418.6" r="2.7"/><circle cx="623.5" cy="424.5" r="2.7"/><circle cx="640.4" cy="429.6" r="2.7"/><circle cx="626.3" cy="433.4" r="2.7"/><circle cx="628.4" cy="434.6" r="2.7"/><circle cx="706.6" cy="403.2" r="2.7"/><circle cx="728.1" cy="399.3" r="2.7"/>
</g>
<g class="r" clip-path="url(#cd)">
<circle cx="490.4" cy="356.8" r="2.7"/><circle cx="455.3" cy="378.4" r="2.7"/><circle cx="443.7" cy="382.8" r="2.7"/><circle cx="434.1" cy="388.1" r="2.7"/><circle cx="438.8" cy="389.8" r="2.7"/><circle cx="456.2" cy="388.1" r="2.7"/><circle cx="468.4" cy="387.2" r="2.7"/><circle cx="472.7" cy="388.1" r="2.7"/><circle cx="447.3" cy="390.0" r="2.7"/><circle cx="453.9" cy="390.7" r="2.7"/><circle cx="477.4" cy="391.9" r="2.7"/><circle cx="426.1" cy="394.5" r="2.7"/><circle cx="430.3" cy="394.0" r="2.7"/><circle cx="434.6" cy="394.9" r="2.7"/><circle cx="453.4" cy="395.4" r="2.7"/><circle cx="446.3" cy="397.3" r="2.7"/><circle cx="444.3" cy="400.6" r="2.7"/><circle cx="452.5" cy="400.1" r="2.7"/><circle cx="461.9" cy="399.6" r="2.7"/><circle cx="468.4" cy="397.6" r="2.7"/><circle cx="474.4" cy="401.3" r="2.7"/><circle cx="447.9" cy="411.7" r="2.7"/><circle cx="460.5" cy="412.6" r="2.7"/><circle cx="464.0" cy="412.3" r="2.7"/><circle cx="466.6" cy="414.2" r="2.7"/><circle cx="441.8" cy="419.4" r="2.7"/><circle cx="453.7" cy="420.3" r="2.7"/><circle cx="475.0" cy="422.2" r="2.7"/><circle cx="425.6" cy="418.0" r="2.7"/><circle cx="546.4" cy="358.3" r="2.7"/><circle cx="525.0" cy="379.1" r="2.7"/><circle cx="508.3" cy="395.2" r="2.7"/><circle cx="504.5" cy="402.5" r="2.7"/><circle cx="524.7" cy="409.3" r="2.7"/><circle cx="527.1" cy="415.9" r="2.7"/><circle cx="511.3" cy="414.8" r="2.7"/><circle cx="500.5" cy="417.1" r="2.7"/><circle cx="519.3" cy="417.5" r="2.7"/>
</g>
<g style="filter:grayscale(1)">
<text class="t" x="35.9" y="7.0" text-anchor="end">20</text>
<text class="t" x="35.9" y="62.5" text-anchor="end">10</text>
<text class="t" x="35.9" y="118.0" text-anchor="end">0</text>
<text class="t" x="35.9" y="173.5" text-anchor="end"><tspan font-size="12.6" dy="2.3">−</tspan><tspan dy="-2.3">10</tspan></text>
<text class="t" x="35.9" y="229.0" text-anchor="end"><tspan font-size="12.6" dy="2.3">−</tspan><tspan dy="-2.3">20</tspan></text>
<text class="t" x="41.5" y="240.5" text-anchor="middle">0</text>
<text class="t" x="94.0" y="240.5" text-anchor="middle">0.2</text>
<text class="t" x="146.5" y="240.5" text-anchor="middle">0.4</text>
<text class="t" x="199.0" y="240.5" text-anchor="middle">0.6</text>
<text class="t" x="251.5" y="240.5" text-anchor="middle">0.8</text>
<text class="t" x="304.0" y="240.5" text-anchor="middle">1</text>
<text class="t" x="356.5" y="240.5" text-anchor="middle">1.2</text>
<text class="s" x="152.2" y="256.6" textLength="93.6" lengthAdjust="spacing">Average <tspan font-style="italic">ρ</tspan> [arcsec]</text>
<text class="s y" transform="translate(7.6 114.5) rotate(-90)" x="-86.7" y="0" textLength="173.4" lengthAdjust="spacing"><tspan font-style="italic">θ</tspan>(692nm) − <tspan font-style="italic">θ</tspan>(880nm)  [degrees]</text>
<text class="p" x="328.5" y="36.6" text-anchor="middle"><tspan font-size="27.5">(</tspan><tspan dx="1.2">a</tspan><tspan font-size="27.5" dx="1.2">)</tspan></text>
<text class="t" x="417.9" y="7.0" text-anchor="end">20</text>
<text class="t" x="417.9" y="62.5" text-anchor="end">10</text>
<text class="t" x="417.9" y="118.0" text-anchor="end">0</text>
<text class="t" x="417.9" y="173.5" text-anchor="end"><tspan font-size="12.6" dy="2.3">−</tspan><tspan dy="-2.3">10</tspan></text>
<text class="t" x="417.9" y="229.0" text-anchor="end"><tspan font-size="12.6" dy="2.3">−</tspan><tspan dy="-2.3">20</tspan></text>
<text class="t" x="423.5" y="240.5" text-anchor="middle">0</text>
<text class="t" x="475.8" y="240.5" text-anchor="middle">0.2</text>
<text class="t" x="528.2" y="240.5" text-anchor="middle">0.4</text>
<text class="t" x="580.5" y="240.5" text-anchor="middle">0.6</text>
<text class="t" x="632.8" y="240.5" text-anchor="middle">0.8</text>
<text class="t" x="685.2" y="240.5" text-anchor="middle">1</text>
<text class="t" x="737.5" y="240.5" text-anchor="middle">1.2</text>
<text class="s" x="531.8" y="256.6" textLength="97.5" lengthAdjust="spacing">Average <tspan font-style="italic">ρ</tspan> [arcsec]</text>
<text class="s y" transform="translate(387.2 114.5) rotate(-90)" x="-77.4" y="0" textLength="154.8" lengthAdjust="spacing"><tspan font-style="italic">ρ</tspan>(692nm) − <tspan font-style="italic">ρ</tspan>(880nm)  [mas]</text>
<text class="p" x="709.9" y="36.6" text-anchor="middle"><tspan font-size="27.5">(</tspan><tspan dx="1.2">b</tspan><tspan font-size="27.5" dx="1.2">)</tspan></text>
<text class="t" x="37.9" y="283.6" text-anchor="end">20</text>
<text class="t" x="37.9" y="339.6" text-anchor="end">10</text>
<text class="t" x="37.9" y="395.6" text-anchor="end">0</text>
<text class="t" x="37.9" y="451.6" text-anchor="end"><tspan font-size="12.6" dy="2.3">−</tspan><tspan dy="-2.3">10</tspan></text>
<text class="t" x="37.9" y="507.6" text-anchor="end"><tspan font-size="12.6" dy="2.3">−</tspan><tspan dy="-2.3">20</tspan></text>
<text class="t" x="43.5" y="519.1" text-anchor="middle">0</text>
<text class="t" x="131.6" y="519.1" text-anchor="middle">100</text>
<text class="t" x="219.6" y="519.1" text-anchor="middle">200</text>
<text class="t" x="307.7" y="519.1" text-anchor="middle">300</text>
<text class="s" x="149.7" y="535.1" textLength="104.6" lengthAdjust="spacing">Average <tspan font-style="italic">θ</tspan> [degrees]</text>
<text class="s y" transform="translate(9.5 392.1) rotate(-90)" x="-77.4" y="0" textLength="154.8" lengthAdjust="spacing"><tspan font-style="italic">ρ</tspan>(692nm) − <tspan font-style="italic">ρ</tspan>(880nm)  [mas]</text>
<text class="p q" x="330.3" y="313.1" text-anchor="middle"><tspan class="p" font-size="27.5">(</tspan><tspan dx="2.2">c</tspan><tspan class="p" font-size="27.5" dx="2.2">)</tspan></text>
<text class="t" x="419.7" y="283.6" text-anchor="end">20</text>
<text class="t" x="419.7" y="339.6" text-anchor="end">10</text>
<text class="t" x="419.7" y="395.6" text-anchor="end">0</text>
<text class="t" x="419.7" y="451.6" text-anchor="end"><tspan font-size="12.6" dy="2.3">−</tspan><tspan dy="-2.3">10</tspan></text>
<text class="t" x="419.7" y="507.6" text-anchor="end"><tspan font-size="12.6" dy="2.3">−</tspan><tspan dy="-2.3">20</tspan></text>
<text class="t" x="425.3" y="519.1" text-anchor="middle">0</text>
<text class="t" x="474.0" y="519.1" text-anchor="middle">1</text>
<text class="t" x="522.7" y="519.1" text-anchor="middle">2</text>
<text class="t" x="571.4" y="519.1" text-anchor="middle">3</text>
<text class="t" x="620.1" y="519.1" text-anchor="middle">4</text>
<text class="t" x="668.8" y="519.1" text-anchor="middle">5</text>
<text class="t" x="717.5" y="519.1" text-anchor="middle">6</text>
<text class="s" x="534.9" y="535.1" textLength="97.4" lengthAdjust="spacing">Average Δm [mag]</text>
<text class="s y" transform="translate(388.9 392.1) rotate(-90)" x="-77.4" y="0" textLength="154.8" lengthAdjust="spacing"><tspan font-style="italic">ρ</tspan>(692nm) − <tspan font-style="italic">ρ</tspan>(880nm)  [mas]</text>
<text class="p q" x="712.0" y="313.1" text-anchor="middle"><tspan class="p" font-size="27.5">(</tspan><tspan dx="2.2">d</tspan><tspan class="p" font-size="27.5" dx="2.2">)</tspan></text>
</g>
</svg></body></html>
